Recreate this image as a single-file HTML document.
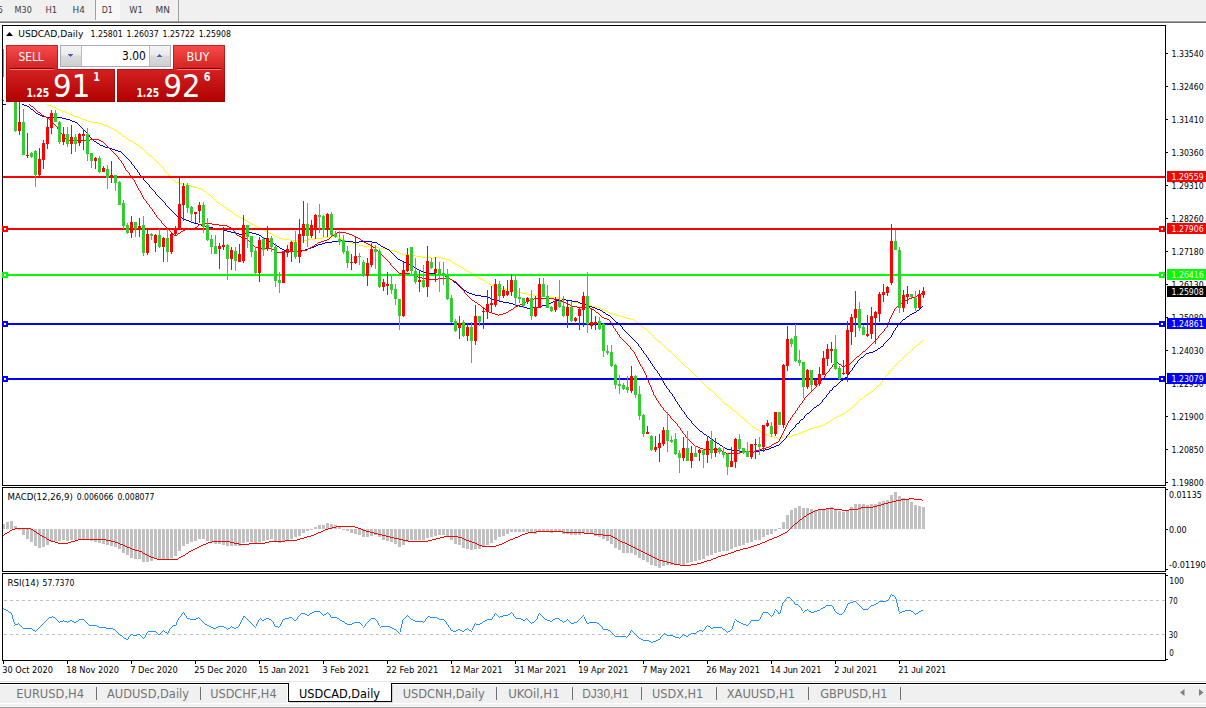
<!DOCTYPE html>
<html><head><meta charset="utf-8"><title>USDCAD,Daily</title>
<style>html,body{margin:0;padding:0;background:#fff}#r{position:relative;width:1206px;height:708px;overflow:hidden;background:#fff}svg{position:absolute;left:0;top:0;display:block}text{font-family:"DejaVu Sans Condensed","Liberation Sans",sans-serif;white-space:pre}</style>
</head><body><div id="r">
<svg width="1206" height="708" viewBox="0 0 1206 708">
<defs>
<linearGradient id="gr" x1="0" y1="0" x2="0" y2="1"><stop offset="0" stop-color="#f84c4c"/><stop offset="0.42" stop-color="#d42222"/><stop offset="1" stop-color="#b00000"/></linearGradient>
<linearGradient id="gb" x1="0" y1="0" x2="0" y2="1"><stop offset="0" stop-color="#f5f5f5"/><stop offset="0.45" stop-color="#eaeaea"/><stop offset="0.5" stop-color="#dbdbdb"/><stop offset="1" stop-color="#d0d0d0"/></linearGradient>
<clipPath id="cm"><rect x="3" y="26" width="1162" height="459"/></clipPath>
<clipPath id="cd"><rect x="3" y="488" width="1162" height="83"/></clipPath>
<clipPath id="cr"><rect x="3" y="574" width="1162" height="86"/></clipPath>
</defs>
<rect x="0" y="0" width="1206" height="708" fill="#fff"/>
<g shape-rendering="crispEdges">
<rect x="0" y="0" width="1206" height="21" fill="#f0f0f0"/>
<rect x="0" y="20" width="1206" height="1" fill="#f4f4f4"/>
<rect x="0" y="21" width="1206" height="1" fill="#a0a0a0"/>
<rect x="0" y="22" width="1206" height="1" fill="#696969"/>
<rect x="96" y="0" width="24" height="20" fill="#f8f8f8"/>
<rect x="95" y="0" width="1" height="20" fill="#a0a0a0"/>
<rect x="178" y="0" width="1" height="21" fill="#a0a0a0"/>
</g>
<g>
<text x="-2.2" y="12.85" font-size="9.0" fill="#3c3c3c" textLength="5.2" lengthAdjust="spacingAndGlyphs">5</text>
<text x="14.6" y="12.85" font-size="9.0" fill="#3c3c3c" textLength="17.2" lengthAdjust="spacingAndGlyphs">M30</text>
<text x="45.6" y="12.85" font-size="9.0" fill="#3c3c3c" textLength="11.6" lengthAdjust="spacingAndGlyphs">H1</text>
<text x="72.6" y="12.85" font-size="9.0" fill="#3c3c3c" textLength="12.3" lengthAdjust="spacingAndGlyphs">H4</text>
<text x="101.7" y="12.85" font-size="9.0" fill="#3c3c3c" textLength="11.1" lengthAdjust="spacingAndGlyphs">D1</text>
<text x="129.3" y="12.85" font-size="9.0" fill="#3c3c3c" textLength="13.6" lengthAdjust="spacingAndGlyphs">W1</text>
<text x="155.6" y="12.85" font-size="9.0" fill="#3c3c3c" textLength="14.4" lengthAdjust="spacingAndGlyphs">MN</text>
</g>
<g shape-rendering="crispEdges" fill="#000">
<rect x="2" y="25" width="1164" height="1" fill="#000"/>
<rect x="2" y="25" width="1" height="636" fill="#000"/>
<rect x="1165" y="25" width="1" height="636" fill="#000"/>
<rect x="2" y="485" width="1164" height="1" fill="#000"/>
<rect x="2" y="487" width="1164" height="1" fill="#000"/>
<rect x="2" y="571" width="1164" height="1" fill="#000"/>
<rect x="2" y="573" width="1164" height="1" fill="#000"/>
<rect x="2" y="660" width="1164" height="1" fill="#000"/>
<rect x="2" y="486" width="1164" height="1" fill="#fff"/>
<rect x="2" y="572" width="1164" height="1" fill="#fff"/>
<rect x="1166" y="53" width="2" height="1" fill="#000"/>
<rect x="1166" y="86" width="2" height="1" fill="#000"/>
<rect x="1166" y="119" width="2" height="1" fill="#000"/>
<rect x="1166" y="152" width="2" height="1" fill="#000"/>
<rect x="1166" y="185" width="2" height="1" fill="#000"/>
<rect x="1166" y="218" width="2" height="1" fill="#000"/>
<rect x="1166" y="251" width="2" height="1" fill="#000"/>
<rect x="1166" y="284" width="2" height="1" fill="#000"/>
<rect x="1166" y="317" width="2" height="1" fill="#000"/>
<rect x="1166" y="350" width="2" height="1" fill="#000"/>
<rect x="1166" y="383" width="2" height="1" fill="#000"/>
<rect x="1166" y="416" width="2" height="1" fill="#000"/>
<rect x="1166" y="449" width="2" height="1" fill="#000"/>
<rect x="1166" y="482" width="2" height="1" fill="#000"/>
<rect x="1166" y="489" width="2" height="1" fill="#000"/>
<rect x="1166" y="529" width="2" height="1" fill="#000"/>
<rect x="1166" y="569" width="2" height="1" fill="#000"/>
<rect x="1166" y="575" width="2" height="1" fill="#000"/>
<rect x="1166" y="659" width="2" height="1" fill="#000"/>
<rect x="3" y="661" width="1" height="3" fill="#000"/>
<rect x="67" y="661" width="1" height="3" fill="#000"/>
<rect x="131" y="661" width="1" height="3" fill="#000"/>
<rect x="195" y="661" width="1" height="3" fill="#000"/>
<rect x="259" y="661" width="1" height="3" fill="#000"/>
<rect x="323" y="661" width="1" height="3" fill="#000"/>
<rect x="387" y="661" width="1" height="3" fill="#000"/>
<rect x="451" y="661" width="1" height="3" fill="#000"/>
<rect x="515" y="661" width="1" height="3" fill="#000"/>
<rect x="579" y="661" width="1" height="3" fill="#000"/>
<rect x="643" y="661" width="1" height="3" fill="#000"/>
<rect x="707" y="661" width="1" height="3" fill="#000"/>
<rect x="771" y="661" width="1" height="3" fill="#000"/>
<rect x="835" y="661" width="1" height="3" fill="#000"/>
<rect x="899" y="661" width="1" height="3" fill="#000"/>
</g>
<g clip-path="url(#cm)">
<g shape-rendering="crispEdges">
<path d="M163.5 168v2M168.5 174v2M880.5 383v2M882.5 380v2M885.5 376v2M888.5 372v2M47 104.5h1M48 105.5h3M51 106.5h2M53 107.5h3M56 108.5h2M58 109.5h2M60 110.5h2M62 111.5h3M65 112.5h2M67 113.5h2M69 114.5h3M72 115.5h2M74 116.5h3M77 117.5h3M80 118.5h2M82 119.5h3M85 120.5h3M88 121.5h4M92 122.5h6M98 123.5h3M101 124.5h3M104 125.5h3M107 126.5h2M109 127.5h2M111 128.5h3M114 129.5h1M115 130.5h2M117 131.5h1M118 132.5h1M119 133.5h2M121 134.5h1M122 135.5h1M123 136.5h2M125 137.5h1M126 138.5h2M128 139.5h1M129 140.5h2M131 141.5h2M133 142.5h1M134 143.5h2M136 144.5h2M138 145.5h1M139 146.5h1M140 147.5h2M142 148.5h1M143 149.5h1M144 150.5h1M145 151.5h1M146 152.5h1M147 153.5h1M148 154.5h1M149 155.5h2M151 156.5h1M152 157.5h1M153 158.5h1M154 159.5h1M155 160.5h1M156 161.5h1M157 162.5h1M158 163.5h1M159 164.5h1M160 165.5h1M161 166.5h1M162 167.5h1M164 170.5h1M165 171.5h1M166 172.5h1M167 173.5h1M169 176.5h1M170 177.5h1M171 178.5h1M172 179.5h2M174 180.5h1M175 181.5h1M176 182.5h4M180 183.5h3M183 184.5h4M187 185.5h4M191 186.5h4M195 187.5h3M198 188.5h3M201 189.5h2M203 190.5h1M204 191.5h2M206 192.5h1M207 193.5h1M208 194.5h2M210 195.5h1M211 196.5h1M212 197.5h1M213 198.5h1M214 199.5h1M215 200.5h1M216 201.5h1M217 202.5h2M219 203.5h1M220 204.5h2M222 205.5h1M223 206.5h1M224 207.5h2M226 208.5h1M227 209.5h2M229 210.5h1M230 211.5h2M232 212.5h1M233 213.5h1M234 214.5h2M236 215.5h1M237 216.5h2M239 217.5h2M241 218.5h2M243 219.5h2M245 220.5h2M247 221.5h1M248 222.5h2M250 223.5h2M252 224.5h2M254 225.5h2M256 226.5h2M258 227.5h1M259 228.5h2M261 229.5h2M263 230.5h2M265 231.5h2M267 232.5h2M269 233.5h3M272 234.5h1M273 235.5h2M275 236.5h2M330 236.5h7M277 237.5h2M322 237.5h8M337 237.5h2M279 238.5h4M315 238.5h7M339 238.5h3M283 239.5h7M308 239.5h7M342 239.5h2M290 240.5h18M344 240.5h2M346 241.5h3M349 242.5h3M352 243.5h3M355 244.5h4M359 245.5h4M363 246.5h7M370 247.5h9M379 248.5h7M386 249.5h4M390 250.5h4M394 251.5h3M397 252.5h2M399 253.5h3M402 254.5h8M410 255.5h6M416 256.5h6M422 257.5h9M433 257.5h9M431 258.5h2M442 258.5h4M446 259.5h3M449 260.5h2M451 261.5h1M452 262.5h2M454 263.5h1M455 264.5h2M457 265.5h2M459 266.5h2M461 267.5h2M463 268.5h1M464 269.5h2M466 270.5h1M467 271.5h2M469 272.5h2M471 273.5h1M472 274.5h1M473 275.5h2M475 276.5h2M477 277.5h2M479 278.5h2M481 279.5h2M483 280.5h2M485 281.5h1M486 282.5h2M488 283.5h2M490 284.5h2M492 285.5h3M495 286.5h2M497 287.5h3M500 288.5h5M505 289.5h5M510 290.5h4M514 291.5h4M518 292.5h4M522 293.5h5M527 294.5h6M533 295.5h6M539 296.5h7M546 297.5h13M559 298.5h4M563 299.5h5M568 300.5h3M571 301.5h3M574 302.5h4M578 303.5h4M582 304.5h5M587 305.5h4M591 306.5h4M595 307.5h4M599 308.5h2M601 309.5h2M603 310.5h3M606 311.5h2M608 312.5h2M610 313.5h4M614 314.5h2M616 315.5h4M620 316.5h3M623 317.5h4M627 318.5h4M631 319.5h3M634 320.5h1M635 321.5h1M636 322.5h2M638 323.5h1M639 324.5h1M640 325.5h2M642 326.5h1M643 327.5h1M644 328.5h2M646 329.5h1M647 330.5h1M648 331.5h1M649 332.5h1M650 333.5h1M651 334.5h1M652 335.5h1M653 336.5h1M654 337.5h1M655 338.5h1M656 339.5h1M657 340.5h1M922 340.5h1M658 341.5h2M921 341.5h1M660 342.5h1M920 342.5h1M661 343.5h1M919 343.5h1M662 344.5h1M918 344.5h1M663 345.5h1M916 345.5h2M664 346.5h1M915 346.5h1M665 347.5h1M914 347.5h1M666 348.5h1M913 348.5h1M667 349.5h1M912 349.5h1M668 350.5h1M911 350.5h1M669 351.5h2M910 351.5h1M671 352.5h1M908 352.5h2M672 353.5h1M907 353.5h1M673 354.5h1M906 354.5h1M674 355.5h1M905 355.5h1M675 356.5h1M904 356.5h1M676 357.5h1M903 357.5h1M677 358.5h1M902 358.5h1M678 359.5h1M901 359.5h1M679 360.5h1M900 360.5h1M680 361.5h1M899 361.5h1M681 362.5h1M898 362.5h1M682 363.5h1M897 363.5h1M683 364.5h1M896 364.5h1M684 365.5h1M895 365.5h1M685 366.5h1M894 366.5h1M686 367.5h2M893 367.5h1M688 368.5h1M892 368.5h1M689 369.5h1M891 369.5h1M690 370.5h1M890 370.5h1M691 371.5h1M889 371.5h1M692 372.5h1M693 373.5h1M694 374.5h1M887 374.5h1M695 375.5h1M886 375.5h1M696 376.5h1M697 377.5h1M698 378.5h1M884 378.5h1M699 379.5h1M883 379.5h1M700 380.5h1M701 381.5h1M702 382.5h1M881 382.5h1M703 383.5h1M704 384.5h1M705 385.5h1M878 385.5h2M706 386.5h1M877 386.5h1M707 387.5h1M876 387.5h1M708 388.5h1M875 388.5h1M709 389.5h2M874 389.5h1M711 390.5h1M873 390.5h1M712 391.5h1M871 391.5h2M713 392.5h1M870 392.5h1M714 393.5h1M868 393.5h2M715 394.5h1M867 394.5h1M716 395.5h1M866 395.5h1M717 396.5h1M864 396.5h2M718 397.5h1M863 397.5h1M719 398.5h1M862 398.5h1M720 399.5h1M860 399.5h2M721 400.5h1M859 400.5h1M722 401.5h1M858 401.5h1M723 402.5h1M857 402.5h1M724 403.5h1M856 403.5h1M725 404.5h2M855 404.5h1M727 405.5h1M854 405.5h1M728 406.5h2M853 406.5h1M730 407.5h1M852 407.5h1M731 408.5h1M850 408.5h2M732 409.5h1M849 409.5h1M733 410.5h1M848 410.5h1M734 411.5h2M846 411.5h2M736 412.5h1M845 412.5h1M737 413.5h1M843 413.5h2M738 414.5h1M841 414.5h2M739 415.5h1M839 415.5h2M740 416.5h1M837 416.5h2M741 417.5h2M835 417.5h2M743 418.5h1M833 418.5h2M744 419.5h1M832 419.5h1M745 420.5h1M830 420.5h2M746 421.5h1M829 421.5h1M747 422.5h1M827 422.5h2M748 423.5h2M825 423.5h2M750 424.5h1M823 424.5h2M751 425.5h1M821 425.5h2M752 426.5h1M818 426.5h3M753 427.5h2M814 427.5h4M755 428.5h1M811 428.5h3M756 429.5h2M808 429.5h3M758 430.5h2M806 430.5h2M760 431.5h1M803 431.5h3M761 432.5h2M801 432.5h2M763 433.5h2M798 433.5h3M765 434.5h3M795 434.5h3M768 435.5h2M792 435.5h3M770 436.5h4M784 436.5h8M774 437.5h3M780 437.5h4M777 438.5h3" fill="none" stroke="#ffff00" stroke-width="1"/>
<path d="M89.5 135v2M131.5 162v2M134.5 166v2M137.5 170v2M139.5 173v2M143.5 178v2M149.5 185v2M155.5 192v2M165.5 203v2M622.5 327v2M638.5 344v2M641.5 348v2M643.5 351v2M646.5 355v2M648.5 358v2M650.5 361v2M652.5 364v2M654.5 367v2M657.5 371v2M659.5 374v2M662.5 378v3M663.5 381v2M664.5 383v2M666.5 386v2M669.5 390v2M672.5 394v2M674.5 397v2M675.5 399v2M677.5 402v2M679.5 405v2M681.5 408v2M684.5 412v2M686.5 415v2M691.5 421v2M786.5 436v2M789.5 432v2M795.5 425v2M799.5 421v2M804.5 416v2M822.5 400v2M826.5 395v2M829.5 391v2M832.5 388v2M847.5 375v2M849.5 372v2M852.5 368v2M854.5 365v2M857.5 361v2M883.5 344v2M891.5 335v2M892.5 333v2M893.5 331v2M895.5 328v2M897.5 325v2M22 104.5h2M24 105.5h3M27 106.5h2M29 107.5h1M30 108.5h1M31 109.5h2M33 110.5h1M34 111.5h1M35 112.5h1M36 113.5h2M38 114.5h2M40 115.5h2M42 116.5h4M46 117.5h16M62 118.5h4M66 119.5h4M70 120.5h2M72 121.5h3M75 122.5h2M77 123.5h1M78 124.5h1M79 125.5h1M80 126.5h1M81 127.5h1M82 128.5h1M83 129.5h1M84 130.5h1M85 131.5h1M86 132.5h1M87 133.5h1M88 134.5h1M90 137.5h1M91 138.5h1M92 139.5h1M93 140.5h1M94 141.5h2M96 142.5h1M97 143.5h2M99 144.5h1M100 145.5h3M103 146.5h2M105 147.5h4M109 148.5h3M112 149.5h3M115 150.5h3M118 151.5h3M121 152.5h1M122 153.5h1M123 154.5h1M124 155.5h1M125 156.5h1M126 157.5h1M127 158.5h1M128 159.5h1M129 160.5h1M130 161.5h1M132 164.5h1M133 165.5h1M135 168.5h1M136 169.5h1M138 172.5h1M140 175.5h1M141 176.5h1M142 177.5h1M144 180.5h1M145 181.5h1M146 182.5h1M147 183.5h1M148 184.5h1M150 187.5h1M151 188.5h1M152 189.5h1M153 190.5h1M154 191.5h1M156 194.5h1M157 195.5h1M158 196.5h1M159 197.5h1M160 198.5h1M161 199.5h1M162 200.5h1M163 201.5h1M164 202.5h1M166 205.5h1M167 206.5h1M168 207.5h1M169 208.5h1M170 209.5h1M171 210.5h1M172 211.5h1M173 212.5h1M174 213.5h1M175 214.5h1M176 215.5h1M177 216.5h2M179 217.5h3M182 218.5h2M184 219.5h2M186 220.5h3M189 221.5h2M191 222.5h3M194 223.5h4M198 224.5h3M201 225.5h3M204 226.5h4M208 227.5h5M213 228.5h5M218 229.5h5M223 230.5h4M227 231.5h4M231 232.5h4M247 232.5h5M235 233.5h4M242 233.5h5M252 233.5h4M239 234.5h3M256 234.5h3M259 235.5h2M261 236.5h1M262 237.5h2M264 238.5h2M266 239.5h1M267 240.5h2M338 240.5h7M269 241.5h2M332 241.5h6M345 241.5h8M359 241.5h13M271 242.5h2M325 242.5h7M353 242.5h6M372 242.5h5M273 243.5h1M322 243.5h3M377 243.5h1M274 244.5h2M318 244.5h4M378 244.5h2M276 245.5h1M316 245.5h2M380 245.5h1M277 246.5h2M314 246.5h2M381 246.5h2M279 247.5h1M311 247.5h3M383 247.5h2M280 248.5h2M308 248.5h3M385 248.5h2M282 249.5h2M305 249.5h3M387 249.5h2M284 250.5h4M301 250.5h4M389 250.5h1M288 251.5h13M390 251.5h1M391 252.5h1M392 253.5h1M393 254.5h1M394 255.5h1M395 256.5h1M396 257.5h1M397 258.5h1M398 259.5h2M400 260.5h2M402 261.5h2M404 262.5h2M406 263.5h1M407 264.5h3M410 265.5h2M412 266.5h2M414 267.5h2M416 268.5h1M417 269.5h2M419 270.5h2M421 271.5h2M423 272.5h3M426 273.5h10M436 274.5h6M442 275.5h3M445 276.5h2M447 277.5h2M449 278.5h1M450 279.5h2M452 280.5h1M453 281.5h1M454 282.5h2M456 283.5h1M457 284.5h1M458 285.5h1M459 286.5h1M460 287.5h1M461 288.5h2M463 289.5h1M464 290.5h2M466 291.5h1M467 292.5h2M469 293.5h3M472 294.5h3M475 295.5h6M481 296.5h7M488 297.5h2M490 298.5h2M492 299.5h3M562 299.5h4M495 300.5h4M556 300.5h6M566 300.5h6M499 301.5h4M553 301.5h3M572 301.5h6M503 302.5h6M551 302.5h2M578 302.5h2M509 303.5h4M548 303.5h3M580 303.5h3M513 304.5h3M547 304.5h1M583 304.5h3M516 305.5h3M542 305.5h5M586 305.5h3M519 306.5h4M538 306.5h4M589 306.5h3M922 306.5h1M523 307.5h4M532 307.5h6M592 307.5h3M921 307.5h1M527 308.5h5M595 308.5h2M920 308.5h1M597 309.5h3M919 309.5h1M600 310.5h2M917 310.5h2M602 311.5h1M916 311.5h1M603 312.5h2M914 312.5h2M605 313.5h1M912 313.5h2M606 314.5h2M910 314.5h2M608 315.5h2M909 315.5h1M610 316.5h1M907 316.5h2M611 317.5h1M906 317.5h1M612 318.5h1M905 318.5h1M613 319.5h1M903 319.5h2M614 320.5h1M902 320.5h1M615 321.5h1M901 321.5h1M616 322.5h2M900 322.5h1M618 323.5h1M899 323.5h1M619 324.5h1M898 324.5h1M620 325.5h1M621 326.5h1M896 327.5h1M623 329.5h1M624 330.5h1M894 330.5h1M625 331.5h1M626 332.5h1M627 333.5h1M628 334.5h1M629 335.5h1M630 336.5h1M631 337.5h1M890 337.5h1M632 338.5h1M889 338.5h1M633 339.5h1M888 339.5h1M634 340.5h1M887 340.5h1M635 341.5h1M886 341.5h1M636 342.5h1M885 342.5h1M637 343.5h1M884 343.5h1M639 346.5h1M881 346.5h2M640 347.5h1M880 347.5h1M878 348.5h2M877 349.5h1M642 350.5h1M875 350.5h2M873 351.5h2M869 352.5h4M644 353.5h1M866 353.5h3M645 354.5h1M865 354.5h1M864 355.5h1M863 356.5h1M647 357.5h1M861 357.5h2M860 358.5h1M859 359.5h1M649 360.5h1M858 360.5h1M651 363.5h1M856 363.5h1M855 364.5h1M653 366.5h1M853 367.5h1M655 369.5h1M656 370.5h1M851 370.5h1M850 371.5h1M658 373.5h1M848 374.5h1M660 376.5h1M661 377.5h1M845 377.5h2M844 378.5h1M843 379.5h1M841 380.5h2M840 381.5h1M839 382.5h1M838 383.5h1M837 384.5h1M665 385.5h1M836 385.5h1M834 386.5h2M833 387.5h1M667 388.5h1M668 389.5h1M830 390.5h2M670 392.5h1M671 393.5h1M828 393.5h1M827 394.5h1M673 396.5h1M825 397.5h1M824 398.5h1M823 399.5h1M676 401.5h1M821 402.5h1M820 403.5h1M678 404.5h1M819 404.5h1M817 405.5h2M816 406.5h1M680 407.5h1M814 407.5h2M813 408.5h1M812 409.5h1M682 410.5h1M811 410.5h1M683 411.5h1M810 411.5h1M809 412.5h1M807 413.5h2M685 414.5h1M806 414.5h1M805 415.5h1M687 417.5h1M688 418.5h1M803 418.5h1M689 419.5h1M801 419.5h2M690 420.5h1M800 420.5h1M692 423.5h1M797 423.5h2M693 424.5h1M796 424.5h1M694 425.5h1M695 426.5h1M696 427.5h1M794 427.5h1M697 428.5h1M793 428.5h1M698 429.5h1M792 429.5h1M699 430.5h1M791 430.5h1M700 431.5h2M790 431.5h1M702 432.5h1M703 433.5h1M704 434.5h2M788 434.5h1M706 435.5h1M787 435.5h1M707 436.5h2M709 437.5h1M710 438.5h2M785 438.5h1M712 439.5h1M784 439.5h1M713 440.5h1M783 440.5h1M714 441.5h2M782 441.5h1M716 442.5h1M781 442.5h1M717 443.5h2M780 443.5h1M719 444.5h1M779 444.5h1M720 445.5h2M776 445.5h3M722 446.5h1M774 446.5h2M723 447.5h2M771 447.5h3M725 448.5h2M769 448.5h2M727 449.5h5M765 449.5h4M732 450.5h7M760 450.5h5M739 451.5h14M754 451.5h6M753 452.5h1" fill="none" stroke="#0000cc" stroke-width="1"/>
<path d="M57.5 127v2M59.5 130v2M62.5 134v2M118.5 157v2M121.5 161v2M123.5 164v2M124.5 166v2M125.5 168v2M129.5 173v2M131.5 176v2M134.5 180v2M135.5 182v2M136.5 184v2M137.5 186v2M138.5 188v2M140.5 191v2M141.5 193v2M142.5 195v2M143.5 197v2M146.5 201v2M149.5 205v2M152.5 209v2M154.5 212v2M156.5 215v2M161.5 221v2M235.5 232v2M390.5 263v2M461.5 287v2M464.5 291v2M610.5 321v2M612.5 324v2M613.5 326v2M615.5 329v2M617.5 332v2M619.5 335v2M630.5 347v2M634.5 352v2M635.5 354v2M636.5 356v2M637.5 358v2M638.5 360v2M639.5 362v2M640.5 364v2M642.5 367v2M643.5 369v2M644.5 371v2M645.5 373v2M646.5 375v3M647.5 378v2M648.5 380v3M649.5 383v2M650.5 385v2M651.5 387v3M652.5 390v2M653.5 392v3M655.5 396v2M656.5 398v2M658.5 401v2M660.5 404v2M663.5 408v2M670.5 416v2M677.5 424v2M680.5 428v2M682.5 431v2M685.5 435v2M779.5 439v2M780.5 437v2M781.5 435v2M782.5 433v2M783.5 431v2M784.5 429v2M785.5 427v2M786.5 425v2M787.5 423v2M788.5 421v2M790.5 418v2M792.5 415v2M795.5 411v2M797.5 408v2M799.5 405v2M802.5 401v2M804.5 398v2M816.5 385v2M824.5 376v2M825.5 374v2M829.5 369v2M832.5 365v2M878.5 336v2M884.5 329v2M887.5 324v3M888.5 322v2M889.5 319v3M890.5 317v2M891.5 315v2M892.5 313v2M893.5 311v2M894.5 309v2M29 104.5h1M30 105.5h1M31 106.5h2M33 107.5h1M34 108.5h1M35 109.5h1M36 110.5h1M37 111.5h1M38 112.5h2M40 113.5h1M41 114.5h1M42 115.5h2M44 116.5h2M46 117.5h2M48 118.5h1M49 119.5h1M50 120.5h1M51 121.5h1M52 122.5h1M53 123.5h1M54 124.5h1M55 125.5h1M56 126.5h1M58 129.5h1M60 132.5h1M61 133.5h1M63 136.5h1M64 137.5h1M65 138.5h1M66 139.5h2M90 139.5h9M68 140.5h22M99 140.5h2M101 141.5h2M103 142.5h1M104 143.5h1M105 144.5h1M106 145.5h1M107 146.5h1M108 147.5h1M109 148.5h1M110 149.5h1M111 150.5h1M112 151.5h1M113 152.5h1M114 153.5h1M115 154.5h1M116 155.5h1M117 156.5h1M119 159.5h1M120 160.5h1M122 163.5h1M126 170.5h1M127 171.5h1M128 172.5h1M130 175.5h1M132 178.5h1M133 179.5h1M139 190.5h1M144 199.5h1M145 200.5h1M147 203.5h1M148 204.5h1M150 207.5h1M151 208.5h1M153 211.5h1M155 214.5h1M157 217.5h1M158 218.5h1M159 219.5h1M160 220.5h1M162 223.5h1M203 223.5h9M163 224.5h1M199 224.5h4M212 224.5h7M164 225.5h1M198 225.5h1M219 225.5h8M165 226.5h1M197 226.5h1M227 226.5h2M166 227.5h1M195 227.5h2M229 227.5h2M167 228.5h1M190 228.5h5M231 228.5h1M168 229.5h1M185 229.5h5M232 229.5h1M169 230.5h1M183 230.5h2M233 230.5h1M170 231.5h1M181 231.5h2M234 231.5h1M171 232.5h1M180 232.5h1M337 232.5h9M172 233.5h1M178 233.5h2M335 233.5h2M346 233.5h3M173 234.5h1M177 234.5h1M236 234.5h1M334 234.5h1M349 234.5h3M174 235.5h3M237 235.5h2M332 235.5h2M352 235.5h2M239 236.5h2M331 236.5h1M354 236.5h2M241 237.5h2M330 237.5h1M356 237.5h2M243 238.5h4M329 238.5h1M358 238.5h2M247 239.5h1M327 239.5h2M360 239.5h1M248 240.5h1M324 240.5h3M361 240.5h2M249 241.5h1M321 241.5h3M363 241.5h1M250 242.5h1M318 242.5h3M364 242.5h2M251 243.5h1M317 243.5h1M366 243.5h2M252 244.5h1M315 244.5h2M368 244.5h2M253 245.5h1M314 245.5h1M370 245.5h1M254 246.5h1M312 246.5h2M371 246.5h2M255 247.5h5M310 247.5h2M373 247.5h2M260 248.5h12M308 248.5h2M375 248.5h1M272 249.5h2M307 249.5h1M376 249.5h1M274 250.5h1M302 250.5h5M377 250.5h1M275 251.5h2M282 251.5h20M378 251.5h1M277 252.5h5M379 252.5h1M380 253.5h1M381 254.5h1M382 255.5h1M383 256.5h1M384 257.5h1M385 258.5h1M386 259.5h1M387 260.5h1M388 261.5h1M389 262.5h1M391 265.5h1M392 266.5h1M393 267.5h1M394 268.5h1M395 269.5h1M396 270.5h1M397 271.5h1M398 272.5h1M399 273.5h11M410 274.5h3M413 275.5h3M416 276.5h2M418 277.5h4M422 278.5h4M438 278.5h12M426 279.5h12M450 279.5h2M452 280.5h2M454 281.5h2M456 282.5h1M457 283.5h1M458 284.5h1M459 285.5h1M460 286.5h1M462 289.5h1M463 290.5h1M922 292.5h1M465 293.5h1M921 293.5h1M466 294.5h1M919 294.5h2M467 295.5h1M917 295.5h2M468 296.5h1M916 296.5h1M469 297.5h1M912 297.5h4M470 298.5h1M534 298.5h20M909 298.5h3M471 299.5h1M530 299.5h4M554 299.5h5M907 299.5h2M472 300.5h2M528 300.5h2M559 300.5h2M905 300.5h2M474 301.5h1M526 301.5h2M561 301.5h3M904 301.5h1M475 302.5h2M524 302.5h2M564 302.5h2M902 302.5h2M477 303.5h1M522 303.5h2M566 303.5h2M900 303.5h2M478 304.5h2M520 304.5h2M568 304.5h2M899 304.5h1M480 305.5h1M518 305.5h2M570 305.5h2M898 305.5h1M481 306.5h1M516 306.5h2M572 306.5h5M897 306.5h1M482 307.5h2M514 307.5h2M577 307.5h13M896 307.5h1M484 308.5h1M513 308.5h1M590 308.5h2M895 308.5h1M485 309.5h2M511 309.5h2M592 309.5h2M487 310.5h1M509 310.5h2M594 310.5h1M488 311.5h1M508 311.5h1M595 311.5h1M489 312.5h3M506 312.5h2M596 312.5h2M492 313.5h3M503 313.5h3M598 313.5h1M495 314.5h3M499 314.5h4M599 314.5h1M498 315.5h1M600 315.5h1M601 316.5h1M602 317.5h2M604 318.5h3M607 319.5h2M609 320.5h1M611 323.5h1M886 327.5h1M614 328.5h1M885 328.5h1M616 331.5h1M883 331.5h1M882 332.5h1M881 333.5h1M618 334.5h1M880 334.5h1M879 335.5h1M620 337.5h1M621 338.5h1M877 338.5h1M622 339.5h1M876 339.5h1M623 340.5h1M875 340.5h1M624 341.5h1M874 341.5h1M625 342.5h1M873 342.5h1M626 343.5h1M872 343.5h1M627 344.5h1M871 344.5h1M628 345.5h1M870 345.5h1M629 346.5h1M869 346.5h1M868 347.5h1M867 348.5h1M631 349.5h1M866 349.5h1M632 350.5h1M865 350.5h1M633 351.5h1M863 351.5h2M862 352.5h1M861 353.5h1M860 354.5h1M859 355.5h1M857 356.5h2M856 357.5h1M855 358.5h1M854 359.5h1M853 360.5h1M852 361.5h1M835 362.5h3M851 362.5h1M834 363.5h1M838 363.5h1M850 363.5h1M833 364.5h1M839 364.5h2M849 364.5h1M841 365.5h1M845 365.5h4M641 366.5h1M842 366.5h3M831 367.5h1M830 368.5h1M828 371.5h1M827 372.5h1M826 373.5h1M823 378.5h1M822 379.5h1M821 380.5h1M820 381.5h1M819 382.5h1M818 383.5h1M817 384.5h1M815 387.5h1M814 388.5h1M813 389.5h1M812 390.5h1M811 391.5h1M810 392.5h1M809 393.5h1M808 394.5h1M654 395.5h1M807 395.5h1M806 396.5h1M805 397.5h1M657 400.5h1M803 400.5h1M659 403.5h1M801 403.5h1M800 404.5h1M661 406.5h1M662 407.5h1M798 407.5h1M664 410.5h1M796 410.5h1M665 411.5h1M666 412.5h1M667 413.5h1M794 413.5h1M668 414.5h1M793 414.5h1M669 415.5h1M791 417.5h1M671 418.5h1M672 419.5h1M673 420.5h1M789 420.5h1M674 421.5h1M675 422.5h1M676 423.5h1M678 426.5h1M679 427.5h1M681 430.5h1M683 433.5h1M684 434.5h1M686 437.5h1M687 438.5h1M688 439.5h1M689 440.5h1M690 441.5h1M778 441.5h1M691 442.5h1M776 442.5h2M692 443.5h1M774 443.5h2M693 444.5h1M772 444.5h2M694 445.5h1M771 445.5h1M695 446.5h3M769 446.5h2M698 447.5h2M766 447.5h3M700 448.5h3M762 448.5h4M703 449.5h17M760 449.5h2M720 450.5h2M756 450.5h4M722 451.5h2M744 451.5h9M754 451.5h2M724 452.5h2M739 452.5h5M753 452.5h1M726 453.5h13" fill="none" stroke="#ff0000" stroke-width="1"/>
<rect x="3" y="104" width="3" height="1" fill="#0000cc"/>
<rect x="3" y="100" width="1" height="1" fill="#ff0000"/>
<rect x="3" y="88" width="1" height="1" fill="#ffff00"/>
<rect x="3" y="176" width="1162" height="2" fill="#ff0000"/>
<rect x="3" y="228" width="1162" height="2" fill="#ff0000"/>
<rect x="3" y="274" width="1162" height="2" fill="#00ff00"/>
<rect x="3" y="323" width="1162" height="2" fill="#0000ff"/>
<rect x="3" y="378" width="1162" height="2" fill="#0000ff"/>
</g>
<g shape-rendering="crispEdges">
<rect x="3" y="49" width="1" height="28" fill="#32cd32"/>
<rect x="15" y="95" width="1" height="37" fill="#32cd32"/>
<rect x="14" y="98" width="3" height="33" fill="#32cd32"/>
<rect x="19" y="95" width="1" height="40" fill="#ff0000"/>
<rect x="18" y="122" width="3" height="9" fill="#ff0000"/>
<rect x="23" y="109" width="1" height="46" fill="#32cd32"/>
<rect x="22" y="122" width="3" height="33" fill="#32cd32"/>
<rect x="27" y="133" width="1" height="25" fill="#ff0000"/>
<rect x="26" y="155" width="3" height="1" fill="#ff0000"/>
<rect x="31" y="152" width="1" height="6" fill="#32cd32"/>
<rect x="30" y="153" width="3" height="4" fill="#32cd32"/>
<rect x="35" y="150" width="1" height="37" fill="#32cd32"/>
<rect x="34" y="151" width="3" height="24" fill="#32cd32"/>
<rect x="39" y="148" width="1" height="28" fill="#ff0000"/>
<rect x="38" y="159" width="3" height="16" fill="#ff0000"/>
<rect x="43" y="140" width="1" height="29" fill="#ff0000"/>
<rect x="42" y="143" width="3" height="17" fill="#ff0000"/>
<rect x="47" y="117" width="1" height="32" fill="#ff0000"/>
<rect x="46" y="127" width="3" height="17" fill="#ff0000"/>
<rect x="51" y="110" width="1" height="24" fill="#ff0000"/>
<rect x="50" y="113" width="3" height="15" fill="#ff0000"/>
<rect x="55" y="110" width="1" height="12" fill="#32cd32"/>
<rect x="54" y="113" width="3" height="9" fill="#32cd32"/>
<rect x="59" y="121" width="1" height="23" fill="#32cd32"/>
<rect x="58" y="122" width="3" height="20" fill="#32cd32"/>
<rect x="63" y="127" width="1" height="18" fill="#ff0000"/>
<rect x="62" y="134" width="3" height="8" fill="#ff0000"/>
<rect x="67" y="127" width="1" height="20" fill="#32cd32"/>
<rect x="66" y="134" width="3" height="10" fill="#32cd32"/>
<rect x="71" y="125" width="1" height="29" fill="#ff0000"/>
<rect x="70" y="137" width="3" height="7" fill="#ff0000"/>
<rect x="75" y="134" width="1" height="18" fill="#32cd32"/>
<rect x="74" y="137" width="3" height="7" fill="#32cd32"/>
<rect x="79" y="133" width="1" height="13" fill="#ff0000"/>
<rect x="78" y="134" width="3" height="9" fill="#ff0000"/>
<rect x="83" y="129" width="1" height="21" fill="#ff0000"/>
<rect x="82" y="134" width="3" height="2" fill="#ff0000"/>
<rect x="87" y="128" width="1" height="33" fill="#32cd32"/>
<rect x="86" y="134" width="3" height="20" fill="#32cd32"/>
<rect x="91" y="153" width="1" height="15" fill="#32cd32"/>
<rect x="90" y="153" width="3" height="8" fill="#32cd32"/>
<rect x="95" y="157" width="1" height="12" fill="#ff0000"/>
<rect x="94" y="158" width="3" height="3" fill="#ff0000"/>
<rect x="99" y="156" width="1" height="17" fill="#32cd32"/>
<rect x="98" y="158" width="3" height="14" fill="#32cd32"/>
<rect x="103" y="166" width="1" height="6" fill="#ff0000"/>
<rect x="102" y="168" width="3" height="4" fill="#ff0000"/>
<rect x="107" y="165" width="1" height="24" fill="#32cd32"/>
<rect x="106" y="169" width="3" height="9" fill="#32cd32"/>
<rect x="111" y="161" width="1" height="22" fill="#ff0000"/>
<rect x="110" y="175" width="3" height="3" fill="#ff0000"/>
<rect x="115" y="175" width="1" height="16" fill="#32cd32"/>
<rect x="114" y="175" width="3" height="8" fill="#32cd32"/>
<rect x="119" y="181" width="1" height="24" fill="#32cd32"/>
<rect x="118" y="182" width="3" height="23" fill="#32cd32"/>
<rect x="123" y="200" width="1" height="29" fill="#32cd32"/>
<rect x="122" y="203" width="3" height="23" fill="#32cd32"/>
<rect x="127" y="223" width="1" height="11" fill="#32cd32"/>
<rect x="126" y="225" width="3" height="8" fill="#32cd32"/>
<rect x="131" y="216" width="1" height="22" fill="#ff0000"/>
<rect x="130" y="222" width="3" height="11" fill="#ff0000"/>
<rect x="135" y="222" width="1" height="15" fill="#32cd32"/>
<rect x="134" y="222" width="3" height="7" fill="#32cd32"/>
<rect x="139" y="218" width="1" height="19" fill="#ff0000"/>
<rect x="138" y="226" width="3" height="3" fill="#ff0000"/>
<rect x="143" y="216" width="1" height="40" fill="#32cd32"/>
<rect x="142" y="225" width="3" height="28" fill="#32cd32"/>
<rect x="147" y="229" width="1" height="26" fill="#ff0000"/>
<rect x="146" y="234" width="3" height="19" fill="#ff0000"/>
<rect x="151" y="233" width="1" height="7" fill="#32cd32"/>
<rect x="150" y="234" width="3" height="2" fill="#32cd32"/>
<rect x="155" y="234" width="1" height="18" fill="#ff0000"/>
<rect x="154" y="235" width="3" height="8" fill="#ff0000"/>
<rect x="159" y="229" width="1" height="19" fill="#32cd32"/>
<rect x="158" y="235" width="3" height="12" fill="#32cd32"/>
<rect x="163" y="237" width="1" height="25" fill="#ff0000"/>
<rect x="162" y="238" width="3" height="9" fill="#ff0000"/>
<rect x="167" y="229" width="1" height="33" fill="#32cd32"/>
<rect x="166" y="238" width="3" height="14" fill="#32cd32"/>
<rect x="171" y="233" width="1" height="21" fill="#ff0000"/>
<rect x="170" y="234" width="3" height="18" fill="#ff0000"/>
<rect x="175" y="226" width="1" height="10" fill="#ff0000"/>
<rect x="174" y="229" width="3" height="5" fill="#ff0000"/>
<rect x="179" y="178" width="1" height="52" fill="#ff0000"/>
<rect x="178" y="204" width="3" height="25" fill="#ff0000"/>
<rect x="183" y="183" width="1" height="38" fill="#ff0000"/>
<rect x="182" y="186" width="3" height="19" fill="#ff0000"/>
<rect x="187" y="183" width="1" height="30" fill="#32cd32"/>
<rect x="186" y="185" width="3" height="23" fill="#32cd32"/>
<rect x="191" y="206" width="1" height="15" fill="#32cd32"/>
<rect x="190" y="207" width="3" height="7" fill="#32cd32"/>
<rect x="195" y="212" width="1" height="11" fill="#ff0000"/>
<rect x="194" y="212" width="3" height="2" fill="#ff0000"/>
<rect x="199" y="202" width="1" height="21" fill="#ff0000"/>
<rect x="198" y="205" width="3" height="6" fill="#ff0000"/>
<rect x="203" y="202" width="1" height="31" fill="#32cd32"/>
<rect x="202" y="205" width="3" height="22" fill="#32cd32"/>
<rect x="207" y="218" width="1" height="23" fill="#32cd32"/>
<rect x="206" y="225" width="3" height="15" fill="#32cd32"/>
<rect x="211" y="235" width="1" height="19" fill="#32cd32"/>
<rect x="210" y="239" width="3" height="8" fill="#32cd32"/>
<rect x="215" y="235" width="1" height="19" fill="#32cd32"/>
<rect x="214" y="246" width="3" height="8" fill="#32cd32"/>
<rect x="219" y="243" width="1" height="26" fill="#ff0000"/>
<rect x="218" y="246" width="3" height="3" fill="#ff0000"/>
<rect x="223" y="227" width="1" height="23" fill="#ff0000"/>
<rect x="222" y="245" width="3" height="2" fill="#ff0000"/>
<rect x="227" y="244" width="1" height="36" fill="#32cd32"/>
<rect x="226" y="245" width="3" height="14" fill="#32cd32"/>
<rect x="231" y="247" width="1" height="23" fill="#ff0000"/>
<rect x="230" y="250" width="3" height="9" fill="#ff0000"/>
<rect x="235" y="247" width="1" height="24" fill="#32cd32"/>
<rect x="234" y="251" width="3" height="10" fill="#32cd32"/>
<rect x="239" y="244" width="1" height="18" fill="#ff0000"/>
<rect x="238" y="254" width="3" height="8" fill="#ff0000"/>
<rect x="243" y="215" width="1" height="48" fill="#ff0000"/>
<rect x="242" y="225" width="3" height="36" fill="#ff0000"/>
<rect x="247" y="225" width="1" height="23" fill="#32cd32"/>
<rect x="246" y="225" width="3" height="12" fill="#32cd32"/>
<rect x="251" y="236" width="1" height="21" fill="#32cd32"/>
<rect x="250" y="236" width="3" height="16" fill="#32cd32"/>
<rect x="255" y="247" width="1" height="27" fill="#32cd32"/>
<rect x="254" y="251" width="3" height="22" fill="#32cd32"/>
<rect x="259" y="237" width="1" height="45" fill="#ff0000"/>
<rect x="258" y="240" width="3" height="33" fill="#ff0000"/>
<rect x="263" y="237" width="1" height="19" fill="#32cd32"/>
<rect x="262" y="239" width="3" height="11" fill="#32cd32"/>
<rect x="267" y="226" width="1" height="25" fill="#ff0000"/>
<rect x="266" y="238" width="3" height="11" fill="#ff0000"/>
<rect x="271" y="236" width="1" height="16" fill="#32cd32"/>
<rect x="270" y="238" width="3" height="9" fill="#32cd32"/>
<rect x="275" y="243" width="1" height="44" fill="#32cd32"/>
<rect x="274" y="247" width="3" height="34" fill="#32cd32"/>
<rect x="279" y="272" width="1" height="21" fill="#32cd32"/>
<rect x="278" y="280" width="3" height="3" fill="#32cd32"/>
<rect x="283" y="251" width="1" height="32" fill="#ff0000"/>
<rect x="282" y="252" width="3" height="31" fill="#ff0000"/>
<rect x="287" y="245" width="1" height="12" fill="#ff0000"/>
<rect x="286" y="249" width="3" height="4" fill="#ff0000"/>
<rect x="291" y="241" width="1" height="21" fill="#ff0000"/>
<rect x="290" y="242" width="3" height="10" fill="#ff0000"/>
<rect x="295" y="231" width="1" height="28" fill="#32cd32"/>
<rect x="294" y="242" width="3" height="15" fill="#32cd32"/>
<rect x="299" y="219" width="1" height="44" fill="#ff0000"/>
<rect x="298" y="234" width="3" height="23" fill="#ff0000"/>
<rect x="303" y="201" width="1" height="42" fill="#ff0000"/>
<rect x="302" y="224" width="3" height="12" fill="#ff0000"/>
<rect x="307" y="203" width="1" height="44" fill="#32cd32"/>
<rect x="306" y="224" width="3" height="12" fill="#32cd32"/>
<rect x="311" y="220" width="1" height="18" fill="#ff0000"/>
<rect x="310" y="225" width="3" height="11" fill="#ff0000"/>
<rect x="315" y="214" width="1" height="25" fill="#ff0000"/>
<rect x="314" y="215" width="3" height="15" fill="#ff0000"/>
<rect x="319" y="204" width="1" height="29" fill="#32cd32"/>
<rect x="318" y="215" width="3" height="2" fill="#32cd32"/>
<rect x="323" y="215" width="1" height="22" fill="#32cd32"/>
<rect x="322" y="216" width="3" height="14" fill="#32cd32"/>
<rect x="327" y="213" width="1" height="24" fill="#ff0000"/>
<rect x="326" y="214" width="3" height="16" fill="#ff0000"/>
<rect x="331" y="212" width="1" height="24" fill="#32cd32"/>
<rect x="330" y="214" width="3" height="21" fill="#32cd32"/>
<rect x="335" y="231" width="1" height="7" fill="#32cd32"/>
<rect x="334" y="234" width="3" height="3" fill="#32cd32"/>
<rect x="339" y="231" width="1" height="14" fill="#32cd32"/>
<rect x="338" y="239" width="3" height="3" fill="#32cd32"/>
<rect x="343" y="235" width="1" height="19" fill="#32cd32"/>
<rect x="342" y="240" width="3" height="12" fill="#32cd32"/>
<rect x="347" y="246" width="1" height="22" fill="#32cd32"/>
<rect x="346" y="251" width="3" height="12" fill="#32cd32"/>
<rect x="351" y="254" width="1" height="16" fill="#ff0000"/>
<rect x="350" y="262" width="3" height="1" fill="#ff0000"/>
<rect x="355" y="236" width="1" height="28" fill="#ff0000"/>
<rect x="354" y="256" width="3" height="7" fill="#ff0000"/>
<rect x="359" y="253" width="1" height="12" fill="#32cd32"/>
<rect x="358" y="256" width="3" height="1" fill="#32cd32"/>
<rect x="363" y="260" width="1" height="17" fill="#32cd32"/>
<rect x="362" y="262" width="3" height="14" fill="#32cd32"/>
<rect x="367" y="258" width="1" height="28" fill="#ff0000"/>
<rect x="366" y="263" width="3" height="13" fill="#ff0000"/>
<rect x="371" y="243" width="1" height="24" fill="#ff0000"/>
<rect x="370" y="249" width="3" height="16" fill="#ff0000"/>
<rect x="375" y="245" width="1" height="24" fill="#32cd32"/>
<rect x="374" y="249" width="3" height="3" fill="#32cd32"/>
<rect x="379" y="249" width="1" height="39" fill="#32cd32"/>
<rect x="378" y="251" width="3" height="36" fill="#32cd32"/>
<rect x="383" y="279" width="1" height="12" fill="#ff0000"/>
<rect x="382" y="282" width="3" height="5" fill="#ff0000"/>
<rect x="387" y="272" width="1" height="23" fill="#ff0000"/>
<rect x="386" y="284" width="3" height="2" fill="#ff0000"/>
<rect x="391" y="274" width="1" height="20" fill="#32cd32"/>
<rect x="390" y="284" width="3" height="6" fill="#32cd32"/>
<rect x="395" y="284" width="1" height="21" fill="#32cd32"/>
<rect x="394" y="289" width="3" height="10" fill="#32cd32"/>
<rect x="399" y="299" width="1" height="31" fill="#32cd32"/>
<rect x="398" y="299" width="3" height="17" fill="#32cd32"/>
<rect x="403" y="262" width="1" height="55" fill="#ff0000"/>
<rect x="402" y="270" width="3" height="46" fill="#ff0000"/>
<rect x="407" y="248" width="1" height="24" fill="#ff0000"/>
<rect x="406" y="255" width="3" height="16" fill="#ff0000"/>
<rect x="411" y="247" width="1" height="27" fill="#32cd32"/>
<rect x="410" y="247" width="3" height="24" fill="#32cd32"/>
<rect x="415" y="258" width="1" height="26" fill="#32cd32"/>
<rect x="414" y="271" width="3" height="11" fill="#32cd32"/>
<rect x="419" y="270" width="1" height="22" fill="#ff0000"/>
<rect x="418" y="280" width="3" height="2" fill="#ff0000"/>
<rect x="423" y="265" width="1" height="23" fill="#32cd32"/>
<rect x="422" y="280" width="3" height="7" fill="#32cd32"/>
<rect x="427" y="246" width="1" height="51" fill="#ff0000"/>
<rect x="426" y="261" width="3" height="26" fill="#ff0000"/>
<rect x="431" y="258" width="1" height="11" fill="#32cd32"/>
<rect x="430" y="262" width="3" height="6" fill="#32cd32"/>
<rect x="435" y="257" width="1" height="25" fill="#ff0000"/>
<rect x="434" y="269" width="3" height="4" fill="#ff0000"/>
<rect x="439" y="262" width="1" height="30" fill="#32cd32"/>
<rect x="438" y="269" width="3" height="6" fill="#32cd32"/>
<rect x="443" y="262" width="1" height="23" fill="#32cd32"/>
<rect x="442" y="273" width="3" height="2" fill="#32cd32"/>
<rect x="447" y="269" width="1" height="31" fill="#32cd32"/>
<rect x="446" y="275" width="3" height="24" fill="#32cd32"/>
<rect x="451" y="295" width="1" height="28" fill="#32cd32"/>
<rect x="450" y="298" width="3" height="24" fill="#32cd32"/>
<rect x="455" y="319" width="1" height="13" fill="#32cd32"/>
<rect x="454" y="321" width="3" height="10" fill="#32cd32"/>
<rect x="459" y="316" width="1" height="23" fill="#ff0000"/>
<rect x="458" y="323" width="3" height="5" fill="#ff0000"/>
<rect x="463" y="320" width="1" height="17" fill="#32cd32"/>
<rect x="462" y="322" width="3" height="14" fill="#32cd32"/>
<rect x="467" y="323" width="1" height="18" fill="#ff0000"/>
<rect x="466" y="327" width="3" height="9" fill="#ff0000"/>
<rect x="471" y="322" width="1" height="41" fill="#32cd32"/>
<rect x="470" y="327" width="3" height="14" fill="#32cd32"/>
<rect x="475" y="305" width="1" height="40" fill="#ff0000"/>
<rect x="474" y="316" width="3" height="25" fill="#ff0000"/>
<rect x="479" y="316" width="1" height="10" fill="#32cd32"/>
<rect x="478" y="316" width="3" height="6" fill="#32cd32"/>
<rect x="483" y="308" width="1" height="21" fill="#ff0000"/>
<rect x="482" y="311" width="3" height="1" fill="#ff0000"/>
<rect x="487" y="290" width="1" height="29" fill="#ff0000"/>
<rect x="486" y="304" width="3" height="8" fill="#ff0000"/>
<rect x="491" y="286" width="1" height="26" fill="#ff0000"/>
<rect x="490" y="303" width="3" height="2" fill="#ff0000"/>
<rect x="495" y="279" width="1" height="28" fill="#ff0000"/>
<rect x="494" y="284" width="3" height="21" fill="#ff0000"/>
<rect x="499" y="281" width="1" height="20" fill="#32cd32"/>
<rect x="498" y="284" width="3" height="12" fill="#32cd32"/>
<rect x="503" y="286" width="1" height="12" fill="#ff0000"/>
<rect x="502" y="290" width="3" height="6" fill="#ff0000"/>
<rect x="507" y="280" width="1" height="16" fill="#ff0000"/>
<rect x="506" y="291" width="3" height="4" fill="#ff0000"/>
<rect x="511" y="274" width="1" height="22" fill="#ff0000"/>
<rect x="510" y="280" width="3" height="12" fill="#ff0000"/>
<rect x="515" y="275" width="1" height="33" fill="#32cd32"/>
<rect x="514" y="280" width="3" height="18" fill="#32cd32"/>
<rect x="519" y="288" width="1" height="15" fill="#32cd32"/>
<rect x="518" y="297" width="3" height="2" fill="#32cd32"/>
<rect x="523" y="298" width="1" height="10" fill="#32cd32"/>
<rect x="522" y="298" width="3" height="8" fill="#32cd32"/>
<rect x="527" y="297" width="1" height="7" fill="#ff0000"/>
<rect x="526" y="298" width="3" height="4" fill="#ff0000"/>
<rect x="531" y="290" width="1" height="30" fill="#32cd32"/>
<rect x="530" y="298" width="3" height="18" fill="#32cd32"/>
<rect x="535" y="296" width="1" height="21" fill="#ff0000"/>
<rect x="534" y="307" width="3" height="9" fill="#ff0000"/>
<rect x="539" y="278" width="1" height="30" fill="#ff0000"/>
<rect x="538" y="284" width="3" height="24" fill="#ff0000"/>
<rect x="543" y="278" width="1" height="19" fill="#32cd32"/>
<rect x="542" y="284" width="3" height="13" fill="#32cd32"/>
<rect x="547" y="285" width="1" height="23" fill="#32cd32"/>
<rect x="546" y="296" width="3" height="12" fill="#32cd32"/>
<rect x="551" y="306" width="1" height="6" fill="#32cd32"/>
<rect x="550" y="307" width="3" height="4" fill="#32cd32"/>
<rect x="555" y="297" width="1" height="15" fill="#ff0000"/>
<rect x="554" y="301" width="3" height="9" fill="#ff0000"/>
<rect x="559" y="280" width="1" height="28" fill="#32cd32"/>
<rect x="558" y="301" width="3" height="6" fill="#32cd32"/>
<rect x="563" y="296" width="1" height="21" fill="#32cd32"/>
<rect x="562" y="306" width="3" height="10" fill="#32cd32"/>
<rect x="567" y="301" width="1" height="27" fill="#ff0000"/>
<rect x="566" y="307" width="3" height="9" fill="#ff0000"/>
<rect x="571" y="301" width="1" height="21" fill="#32cd32"/>
<rect x="570" y="307" width="3" height="14" fill="#32cd32"/>
<rect x="575" y="317" width="1" height="5" fill="#ff0000"/>
<rect x="574" y="318" width="3" height="3" fill="#ff0000"/>
<rect x="579" y="308" width="1" height="22" fill="#ff0000"/>
<rect x="578" y="309" width="3" height="7" fill="#ff0000"/>
<rect x="583" y="292" width="1" height="35" fill="#ff0000"/>
<rect x="582" y="296" width="3" height="14" fill="#ff0000"/>
<rect x="587" y="272" width="1" height="61" fill="#32cd32"/>
<rect x="586" y="296" width="3" height="28" fill="#32cd32"/>
<rect x="591" y="308" width="1" height="21" fill="#ff0000"/>
<rect x="590" y="322" width="3" height="4" fill="#ff0000"/>
<rect x="595" y="316" width="1" height="14" fill="#ff0000"/>
<rect x="594" y="322" width="3" height="2" fill="#ff0000"/>
<rect x="599" y="317" width="1" height="13" fill="#32cd32"/>
<rect x="598" y="321" width="3" height="8" fill="#32cd32"/>
<rect x="603" y="323" width="1" height="34" fill="#32cd32"/>
<rect x="602" y="324" width="3" height="27" fill="#32cd32"/>
<rect x="607" y="345" width="1" height="10" fill="#32cd32"/>
<rect x="606" y="351" width="3" height="2" fill="#32cd32"/>
<rect x="611" y="345" width="1" height="22" fill="#32cd32"/>
<rect x="610" y="352" width="3" height="14" fill="#32cd32"/>
<rect x="615" y="364" width="1" height="25" fill="#32cd32"/>
<rect x="614" y="365" width="3" height="20" fill="#32cd32"/>
<rect x="619" y="375" width="1" height="19" fill="#32cd32"/>
<rect x="618" y="384" width="3" height="2" fill="#32cd32"/>
<rect x="623" y="383" width="1" height="7" fill="#32cd32"/>
<rect x="622" y="385" width="3" height="4" fill="#32cd32"/>
<rect x="627" y="376" width="1" height="17" fill="#32cd32"/>
<rect x="626" y="387" width="3" height="3" fill="#32cd32"/>
<rect x="631" y="366" width="1" height="27" fill="#ff0000"/>
<rect x="630" y="376" width="3" height="15" fill="#ff0000"/>
<rect x="635" y="375" width="1" height="23" fill="#32cd32"/>
<rect x="634" y="376" width="3" height="19" fill="#32cd32"/>
<rect x="639" y="386" width="1" height="34" fill="#32cd32"/>
<rect x="638" y="394" width="3" height="22" fill="#32cd32"/>
<rect x="643" y="414" width="1" height="23" fill="#32cd32"/>
<rect x="642" y="415" width="3" height="19" fill="#32cd32"/>
<rect x="647" y="426" width="1" height="8" fill="#ff0000"/>
<rect x="646" y="432" width="3" height="2" fill="#ff0000"/>
<rect x="651" y="435" width="1" height="16" fill="#32cd32"/>
<rect x="650" y="436" width="3" height="14" fill="#32cd32"/>
<rect x="655" y="436" width="1" height="16" fill="#ff0000"/>
<rect x="654" y="447" width="3" height="3" fill="#ff0000"/>
<rect x="659" y="434" width="1" height="28" fill="#ff0000"/>
<rect x="658" y="443" width="3" height="5" fill="#ff0000"/>
<rect x="663" y="427" width="1" height="19" fill="#ff0000"/>
<rect x="662" y="430" width="3" height="14" fill="#ff0000"/>
<rect x="667" y="412" width="1" height="40" fill="#32cd32"/>
<rect x="666" y="430" width="3" height="11" fill="#32cd32"/>
<rect x="671" y="436" width="1" height="7" fill="#32cd32"/>
<rect x="670" y="440" width="3" height="2" fill="#32cd32"/>
<rect x="675" y="433" width="1" height="22" fill="#32cd32"/>
<rect x="674" y="439" width="3" height="15" fill="#32cd32"/>
<rect x="679" y="450" width="1" height="23" fill="#32cd32"/>
<rect x="678" y="453" width="3" height="5" fill="#32cd32"/>
<rect x="683" y="437" width="1" height="24" fill="#ff0000"/>
<rect x="682" y="448" width="3" height="10" fill="#ff0000"/>
<rect x="687" y="431" width="1" height="30" fill="#32cd32"/>
<rect x="686" y="448" width="3" height="13" fill="#32cd32"/>
<rect x="691" y="446" width="1" height="22" fill="#ff0000"/>
<rect x="690" y="453" width="3" height="8" fill="#ff0000"/>
<rect x="695" y="446" width="1" height="11" fill="#32cd32"/>
<rect x="694" y="453" width="3" height="4" fill="#32cd32"/>
<rect x="699" y="449" width="1" height="12" fill="#ff0000"/>
<rect x="698" y="450" width="3" height="3" fill="#ff0000"/>
<rect x="703" y="449" width="1" height="19" fill="#32cd32"/>
<rect x="702" y="450" width="3" height="5" fill="#32cd32"/>
<rect x="707" y="436" width="1" height="27" fill="#ff0000"/>
<rect x="706" y="441" width="3" height="14" fill="#ff0000"/>
<rect x="711" y="431" width="1" height="28" fill="#32cd32"/>
<rect x="710" y="440" width="3" height="13" fill="#32cd32"/>
<rect x="715" y="438" width="1" height="19" fill="#ff0000"/>
<rect x="714" y="448" width="3" height="5" fill="#ff0000"/>
<rect x="719" y="447" width="1" height="7" fill="#32cd32"/>
<rect x="718" y="448" width="3" height="4" fill="#32cd32"/>
<rect x="723" y="447" width="1" height="11" fill="#32cd32"/>
<rect x="722" y="452" width="3" height="3" fill="#32cd32"/>
<rect x="727" y="453" width="1" height="22" fill="#32cd32"/>
<rect x="726" y="454" width="3" height="13" fill="#32cd32"/>
<rect x="731" y="447" width="1" height="20" fill="#ff0000"/>
<rect x="730" y="461" width="3" height="6" fill="#ff0000"/>
<rect x="735" y="438" width="1" height="30" fill="#ff0000"/>
<rect x="734" y="439" width="3" height="23" fill="#ff0000"/>
<rect x="739" y="434" width="1" height="20" fill="#32cd32"/>
<rect x="738" y="439" width="3" height="10" fill="#32cd32"/>
<rect x="743" y="448" width="1" height="6" fill="#32cd32"/>
<rect x="742" y="448" width="3" height="5" fill="#32cd32"/>
<rect x="747" y="442" width="1" height="15" fill="#32cd32"/>
<rect x="746" y="451" width="3" height="6" fill="#32cd32"/>
<rect x="751" y="444" width="1" height="15" fill="#ff0000"/>
<rect x="750" y="444" width="3" height="13" fill="#ff0000"/>
<rect x="755" y="439" width="1" height="20" fill="#ff0000"/>
<rect x="754" y="444" width="3" height="1" fill="#ff0000"/>
<rect x="759" y="437" width="1" height="18" fill="#32cd32"/>
<rect x="758" y="444" width="3" height="3" fill="#32cd32"/>
<rect x="763" y="425" width="1" height="27" fill="#ff0000"/>
<rect x="762" y="425" width="3" height="22" fill="#ff0000"/>
<rect x="767" y="420" width="1" height="7" fill="#ff0000"/>
<rect x="766" y="423" width="3" height="3" fill="#ff0000"/>
<rect x="771" y="422" width="1" height="15" fill="#32cd32"/>
<rect x="770" y="426" width="3" height="8" fill="#32cd32"/>
<rect x="775" y="412" width="1" height="24" fill="#ff0000"/>
<rect x="774" y="412" width="3" height="22" fill="#ff0000"/>
<rect x="779" y="412" width="1" height="13" fill="#32cd32"/>
<rect x="778" y="412" width="3" height="13" fill="#32cd32"/>
<rect x="783" y="364" width="1" height="64" fill="#ff0000"/>
<rect x="782" y="365" width="3" height="60" fill="#ff0000"/>
<rect x="787" y="326" width="1" height="45" fill="#ff0000"/>
<rect x="786" y="339" width="3" height="27" fill="#ff0000"/>
<rect x="791" y="338" width="1" height="9" fill="#32cd32"/>
<rect x="790" y="339" width="3" height="5" fill="#32cd32"/>
<rect x="795" y="324" width="1" height="38" fill="#32cd32"/>
<rect x="794" y="336" width="3" height="25" fill="#32cd32"/>
<rect x="799" y="350" width="1" height="16" fill="#32cd32"/>
<rect x="798" y="360" width="3" height="3" fill="#32cd32"/>
<rect x="803" y="362" width="1" height="36" fill="#32cd32"/>
<rect x="802" y="362" width="3" height="25" fill="#32cd32"/>
<rect x="807" y="369" width="1" height="20" fill="#ff0000"/>
<rect x="806" y="370" width="3" height="17" fill="#ff0000"/>
<rect x="811" y="370" width="1" height="21" fill="#32cd32"/>
<rect x="810" y="370" width="3" height="15" fill="#32cd32"/>
<rect x="815" y="379" width="1" height="7" fill="#ff0000"/>
<rect x="814" y="380" width="3" height="5" fill="#ff0000"/>
<rect x="819" y="367" width="1" height="19" fill="#ff0000"/>
<rect x="818" y="374" width="3" height="10" fill="#ff0000"/>
<rect x="823" y="351" width="1" height="24" fill="#ff0000"/>
<rect x="822" y="358" width="3" height="17" fill="#ff0000"/>
<rect x="827" y="344" width="1" height="22" fill="#ff0000"/>
<rect x="826" y="349" width="3" height="10" fill="#ff0000"/>
<rect x="831" y="342" width="1" height="21" fill="#ff0000"/>
<rect x="830" y="349" width="3" height="2" fill="#ff0000"/>
<rect x="835" y="335" width="1" height="35" fill="#32cd32"/>
<rect x="834" y="349" width="3" height="20" fill="#32cd32"/>
<rect x="839" y="366" width="1" height="14" fill="#32cd32"/>
<rect x="838" y="368" width="3" height="11" fill="#32cd32"/>
<rect x="843" y="360" width="1" height="15" fill="#ff0000"/>
<rect x="842" y="373" width="3" height="1" fill="#ff0000"/>
<rect x="847" y="321" width="1" height="61" fill="#ff0000"/>
<rect x="846" y="330" width="3" height="44" fill="#ff0000"/>
<rect x="851" y="314" width="1" height="31" fill="#ff0000"/>
<rect x="850" y="317" width="3" height="15" fill="#ff0000"/>
<rect x="855" y="291" width="1" height="46" fill="#ff0000"/>
<rect x="854" y="309" width="3" height="9" fill="#ff0000"/>
<rect x="859" y="302" width="1" height="29" fill="#32cd32"/>
<rect x="858" y="309" width="3" height="19" fill="#32cd32"/>
<rect x="863" y="325" width="1" height="10" fill="#32cd32"/>
<rect x="862" y="327" width="3" height="8" fill="#32cd32"/>
<rect x="867" y="315" width="1" height="22" fill="#ff0000"/>
<rect x="866" y="334" width="3" height="2" fill="#ff0000"/>
<rect x="871" y="307" width="1" height="32" fill="#ff0000"/>
<rect x="870" y="316" width="3" height="18" fill="#ff0000"/>
<rect x="875" y="311" width="1" height="33" fill="#ff0000"/>
<rect x="874" y="312" width="3" height="6" fill="#ff0000"/>
<rect x="879" y="292" width="1" height="30" fill="#ff0000"/>
<rect x="878" y="294" width="3" height="20" fill="#ff0000"/>
<rect x="883" y="284" width="1" height="18" fill="#ff0000"/>
<rect x="882" y="292" width="3" height="3" fill="#ff0000"/>
<rect x="887" y="286" width="1" height="10" fill="#ff0000"/>
<rect x="886" y="287" width="3" height="6" fill="#ff0000"/>
<rect x="891" y="224" width="1" height="61" fill="#ff0000"/>
<rect x="890" y="241" width="3" height="42" fill="#ff0000"/>
<rect x="895" y="230" width="1" height="20" fill="#32cd32"/>
<rect x="894" y="241" width="3" height="9" fill="#32cd32"/>
<rect x="899" y="247" width="1" height="66" fill="#32cd32"/>
<rect x="898" y="250" width="3" height="58" fill="#32cd32"/>
<rect x="903" y="290" width="1" height="22" fill="#ff0000"/>
<rect x="902" y="295" width="3" height="13" fill="#ff0000"/>
<rect x="907" y="286" width="1" height="18" fill="#ff0000"/>
<rect x="906" y="294" width="3" height="3" fill="#ff0000"/>
<rect x="911" y="294" width="1" height="4" fill="#32cd32"/>
<rect x="910" y="294" width="3" height="3" fill="#32cd32"/>
<rect x="915" y="291" width="1" height="20" fill="#32cd32"/>
<rect x="914" y="298" width="3" height="10" fill="#32cd32"/>
<rect x="919" y="290" width="1" height="19" fill="#ff0000"/>
<rect x="918" y="294" width="3" height="14" fill="#ff0000"/>
<rect x="923" y="287" width="1" height="11" fill="#ff0000"/>
<rect x="922" y="291" width="3" height="4" fill="#ff0000"/>
</g>
</g>
<g shape-rendering="crispEdges">
<rect x="2" y="226" width="6" height="6" fill="#ff0000"/>
<rect x="4" y="228" width="2" height="2" fill="#fff"/>
<rect x="1159" y="226" width="6" height="6" fill="#ff0000"/>
<rect x="1161" y="228" width="2" height="2" fill="#fff"/>
<rect x="2" y="272" width="6" height="6" fill="#00ff00"/>
<rect x="4" y="274" width="2" height="2" fill="#fff"/>
<rect x="1159" y="272" width="6" height="6" fill="#00ff00"/>
<rect x="1161" y="274" width="2" height="2" fill="#fff"/>
<rect x="2" y="321" width="6" height="6" fill="#0000ff"/>
<rect x="4" y="323" width="2" height="2" fill="#fff"/>
<rect x="1159" y="321" width="6" height="6" fill="#0000ff"/>
<rect x="1161" y="323" width="2" height="2" fill="#fff"/>
<rect x="2" y="376" width="6" height="6" fill="#0000ff"/>
<rect x="4" y="378" width="2" height="2" fill="#fff"/>
<rect x="1159" y="376" width="6" height="6" fill="#0000ff"/>
<rect x="1161" y="378" width="2" height="2" fill="#fff"/>
</g>
<g clip-path="url(#cd)">
<g shape-rendering="crispEdges" fill="#c0c0c0">
<rect x="2" y="524" width="3" height="5"/>
<rect x="6" y="522" width="3" height="7"/>
<rect x="10" y="521" width="3" height="8"/>
<rect x="14" y="526" width="3" height="3"/>
<rect x="18" y="529" width="3" height="1"/>
<rect x="22" y="529" width="3" height="6"/>
<rect x="26" y="529" width="3" height="10"/>
<rect x="30" y="529" width="3" height="13"/>
<rect x="34" y="529" width="3" height="17"/>
<rect x="38" y="529" width="3" height="19"/>
<rect x="42" y="529" width="3" height="18"/>
<rect x="46" y="529" width="3" height="16"/>
<rect x="50" y="529" width="3" height="13"/>
<rect x="54" y="529" width="3" height="12"/>
<rect x="58" y="529" width="3" height="12"/>
<rect x="62" y="529" width="3" height="11"/>
<rect x="66" y="529" width="3" height="12"/>
<rect x="70" y="529" width="3" height="11"/>
<rect x="74" y="529" width="3" height="11"/>
<rect x="78" y="529" width="3" height="10"/>
<rect x="82" y="529" width="3" height="10"/>
<rect x="86" y="529" width="3" height="11"/>
<rect x="90" y="529" width="3" height="12"/>
<rect x="94" y="529" width="3" height="13"/>
<rect x="98" y="529" width="3" height="14"/>
<rect x="102" y="529" width="3" height="15"/>
<rect x="106" y="529" width="3" height="16"/>
<rect x="110" y="529" width="3" height="17"/>
<rect x="114" y="529" width="3" height="18"/>
<rect x="118" y="529" width="3" height="20"/>
<rect x="122" y="529" width="3" height="24"/>
<rect x="126" y="529" width="3" height="26"/>
<rect x="130" y="529" width="3" height="29"/>
<rect x="134" y="529" width="3" height="30"/>
<rect x="138" y="529" width="3" height="30"/>
<rect x="142" y="529" width="3" height="33"/>
<rect x="146" y="529" width="3" height="33"/>
<rect x="150" y="529" width="3" height="32"/>
<rect x="154" y="529" width="3" height="30"/>
<rect x="158" y="529" width="3" height="31"/>
<rect x="162" y="529" width="3" height="30"/>
<rect x="166" y="529" width="3" height="30"/>
<rect x="170" y="529" width="3" height="29"/>
<rect x="174" y="529" width="3" height="27"/>
<rect x="178" y="529" width="3" height="22"/>
<rect x="182" y="529" width="3" height="17"/>
<rect x="186" y="529" width="3" height="15"/>
<rect x="190" y="529" width="3" height="13"/>
<rect x="194" y="529" width="3" height="12"/>
<rect x="198" y="529" width="3" height="10"/>
<rect x="202" y="529" width="3" height="10"/>
<rect x="206" y="529" width="3" height="12"/>
<rect x="210" y="529" width="3" height="13"/>
<rect x="214" y="529" width="3" height="15"/>
<rect x="218" y="529" width="3" height="15"/>
<rect x="222" y="529" width="3" height="16"/>
<rect x="226" y="529" width="3" height="17"/>
<rect x="230" y="529" width="3" height="17"/>
<rect x="234" y="529" width="3" height="17"/>
<rect x="238" y="529" width="3" height="17"/>
<rect x="242" y="529" width="3" height="14"/>
<rect x="246" y="529" width="3" height="13"/>
<rect x="250" y="529" width="3" height="13"/>
<rect x="254" y="529" width="3" height="14"/>
<rect x="258" y="529" width="3" height="13"/>
<rect x="262" y="529" width="3" height="12"/>
<rect x="266" y="529" width="3" height="11"/>
<rect x="270" y="529" width="3" height="10"/>
<rect x="274" y="529" width="3" height="12"/>
<rect x="278" y="529" width="3" height="14"/>
<rect x="282" y="529" width="3" height="12"/>
<rect x="286" y="529" width="3" height="11"/>
<rect x="290" y="529" width="3" height="10"/>
<rect x="294" y="529" width="3" height="8"/>
<rect x="298" y="529" width="3" height="7"/>
<rect x="302" y="529" width="3" height="4"/>
<rect x="306" y="529" width="3" height="2"/>
<rect x="310" y="529" width="3" height="1"/>
<rect x="314" y="527" width="3" height="2"/>
<rect x="318" y="525" width="3" height="4"/>
<rect x="322" y="525" width="3" height="4"/>
<rect x="326" y="523" width="3" height="6"/>
<rect x="330" y="524" width="3" height="5"/>
<rect x="334" y="525" width="3" height="4"/>
<rect x="338" y="527" width="3" height="2"/>
<rect x="342" y="529" width="3" height="1"/>
<rect x="346" y="529" width="3" height="2"/>
<rect x="350" y="529" width="3" height="4"/>
<rect x="354" y="529" width="3" height="5"/>
<rect x="358" y="529" width="3" height="6"/>
<rect x="362" y="529" width="3" height="8"/>
<rect x="366" y="529" width="3" height="8"/>
<rect x="370" y="529" width="3" height="7"/>
<rect x="374" y="529" width="3" height="6"/>
<rect x="378" y="529" width="3" height="8"/>
<rect x="382" y="529" width="3" height="11"/>
<rect x="386" y="529" width="3" height="12"/>
<rect x="390" y="529" width="3" height="13"/>
<rect x="394" y="529" width="3" height="15"/>
<rect x="398" y="529" width="3" height="18"/>
<rect x="402" y="529" width="3" height="16"/>
<rect x="406" y="529" width="3" height="13"/>
<rect x="410" y="529" width="3" height="11"/>
<rect x="414" y="529" width="3" height="11"/>
<rect x="418" y="529" width="3" height="11"/>
<rect x="422" y="529" width="3" height="11"/>
<rect x="426" y="529" width="3" height="9"/>
<rect x="430" y="529" width="3" height="8"/>
<rect x="434" y="529" width="3" height="7"/>
<rect x="438" y="529" width="3" height="6"/>
<rect x="442" y="529" width="3" height="6"/>
<rect x="446" y="529" width="3" height="8"/>
<rect x="450" y="529" width="3" height="11"/>
<rect x="454" y="529" width="3" height="15"/>
<rect x="458" y="529" width="3" height="16"/>
<rect x="462" y="529" width="3" height="19"/>
<rect x="466" y="529" width="3" height="20"/>
<rect x="470" y="529" width="3" height="21"/>
<rect x="474" y="529" width="3" height="20"/>
<rect x="478" y="529" width="3" height="20"/>
<rect x="482" y="529" width="3" height="17"/>
<rect x="486" y="529" width="3" height="16"/>
<rect x="490" y="529" width="3" height="14"/>
<rect x="494" y="529" width="3" height="11"/>
<rect x="498" y="529" width="3" height="8"/>
<rect x="502" y="529" width="3" height="7"/>
<rect x="506" y="529" width="3" height="5"/>
<rect x="510" y="529" width="3" height="3"/>
<rect x="514" y="529" width="3" height="3"/>
<rect x="518" y="529" width="3" height="3"/>
<rect x="522" y="529" width="3" height="3"/>
<rect x="526" y="529" width="3" height="3"/>
<rect x="530" y="529" width="3" height="4"/>
<rect x="534" y="529" width="3" height="5"/>
<rect x="538" y="529" width="3" height="3"/>
<rect x="542" y="529" width="3" height="2"/>
<rect x="546" y="529" width="3" height="3"/>
<rect x="550" y="529" width="3" height="4"/>
<rect x="554" y="529" width="3" height="3"/>
<rect x="558" y="529" width="3" height="3"/>
<rect x="562" y="529" width="3" height="5"/>
<rect x="566" y="529" width="3" height="5"/>
<rect x="570" y="529" width="3" height="6"/>
<rect x="574" y="529" width="3" height="6"/>
<rect x="578" y="529" width="3" height="6"/>
<rect x="582" y="529" width="3" height="4"/>
<rect x="586" y="529" width="3" height="5"/>
<rect x="590" y="529" width="3" height="5"/>
<rect x="594" y="529" width="3" height="7"/>
<rect x="598" y="529" width="3" height="8"/>
<rect x="602" y="529" width="3" height="10"/>
<rect x="606" y="529" width="3" height="12"/>
<rect x="610" y="529" width="3" height="15"/>
<rect x="614" y="529" width="3" height="19"/>
<rect x="618" y="529" width="3" height="21"/>
<rect x="622" y="529" width="3" height="24"/>
<rect x="626" y="529" width="3" height="24"/>
<rect x="630" y="529" width="3" height="24"/>
<rect x="634" y="529" width="3" height="26"/>
<rect x="638" y="529" width="3" height="29"/>
<rect x="642" y="529" width="3" height="31"/>
<rect x="646" y="529" width="3" height="33"/>
<rect x="650" y="529" width="3" height="36"/>
<rect x="654" y="529" width="3" height="37"/>
<rect x="658" y="529" width="3" height="39"/>
<rect x="662" y="529" width="3" height="37"/>
<rect x="666" y="529" width="3" height="36"/>
<rect x="670" y="529" width="3" height="36"/>
<rect x="674" y="529" width="3" height="36"/>
<rect x="678" y="529" width="3" height="36"/>
<rect x="682" y="529" width="3" height="36"/>
<rect x="686" y="529" width="3" height="34"/>
<rect x="690" y="529" width="3" height="33"/>
<rect x="694" y="529" width="3" height="32"/>
<rect x="698" y="529" width="3" height="31"/>
<rect x="702" y="529" width="3" height="30"/>
<rect x="706" y="529" width="3" height="27"/>
<rect x="710" y="529" width="3" height="26"/>
<rect x="714" y="529" width="3" height="24"/>
<rect x="718" y="529" width="3" height="23"/>
<rect x="722" y="529" width="3" height="22"/>
<rect x="726" y="529" width="3" height="22"/>
<rect x="730" y="529" width="3" height="20"/>
<rect x="734" y="529" width="3" height="18"/>
<rect x="738" y="529" width="3" height="17"/>
<rect x="742" y="529" width="3" height="16"/>
<rect x="746" y="529" width="3" height="14"/>
<rect x="750" y="529" width="3" height="13"/>
<rect x="754" y="529" width="3" height="11"/>
<rect x="758" y="529" width="3" height="11"/>
<rect x="762" y="529" width="3" height="8"/>
<rect x="766" y="529" width="3" height="6"/>
<rect x="770" y="529" width="3" height="5"/>
<rect x="774" y="529" width="3" height="2"/>
<rect x="778" y="528" width="3" height="1"/>
<rect x="782" y="522" width="3" height="7"/>
<rect x="786" y="515" width="3" height="14"/>
<rect x="790" y="510" width="3" height="19"/>
<rect x="794" y="508" width="3" height="21"/>
<rect x="798" y="506" width="3" height="23"/>
<rect x="802" y="508" width="3" height="21"/>
<rect x="806" y="508" width="3" height="21"/>
<rect x="810" y="509" width="3" height="20"/>
<rect x="814" y="510" width="3" height="19"/>
<rect x="818" y="510" width="3" height="19"/>
<rect x="822" y="509" width="3" height="20"/>
<rect x="826" y="508" width="3" height="21"/>
<rect x="830" y="507" width="3" height="22"/>
<rect x="834" y="509" width="3" height="20"/>
<rect x="838" y="511" width="3" height="18"/>
<rect x="842" y="512" width="3" height="17"/>
<rect x="846" y="511" width="3" height="18"/>
<rect x="850" y="507" width="3" height="22"/>
<rect x="854" y="504" width="3" height="25"/>
<rect x="858" y="504" width="3" height="25"/>
<rect x="862" y="504" width="3" height="25"/>
<rect x="866" y="505" width="3" height="24"/>
<rect x="870" y="504" width="3" height="25"/>
<rect x="874" y="504" width="3" height="25"/>
<rect x="878" y="502" width="3" height="27"/>
<rect x="882" y="501" width="3" height="28"/>
<rect x="886" y="500" width="3" height="29"/>
<rect x="890" y="495" width="3" height="34"/>
<rect x="894" y="492" width="3" height="37"/>
<rect x="898" y="496" width="3" height="33"/>
<rect x="902" y="498" width="3" height="31"/>
<rect x="906" y="500" width="3" height="29"/>
<rect x="910" y="502" width="3" height="27"/>
<rect x="914" y="505" width="3" height="24"/>
<rect x="918" y="506" width="3" height="23"/>
<rect x="922" y="507" width="3" height="22"/>
</g>
<g shape-rendering="crispEdges"><path d="M909 498.5h5M901 499.5h8M914 499.5h8M896 500.5h5M922 500.5h1M892 501.5h4M888 502.5h4M884 503.5h4M881 504.5h3M877 505.5h4M873 506.5h4M861 507.5h12M826 508.5h8M858 508.5h3M818 509.5h8M834 509.5h8M849 509.5h9M815 510.5h3M842 510.5h7M813 511.5h2M811 512.5h2M809 513.5h2M807 514.5h2M806 515.5h1M804 516.5h2M803 517.5h1M802 518.5h1M800 519.5h2M799 520.5h1M798 521.5h1M797 522.5h1M795 523.5h2M794 524.5h1M793 525.5h1M336 526.5h19M792 526.5h1M332 527.5h4M355 527.5h3M791 527.5h1M15 528.5h16M328 528.5h4M358 528.5h3M790 528.5h1M12 529.5h3M31 529.5h2M325 529.5h3M361 529.5h2M789 529.5h1M10 530.5h2M33 530.5h1M323 530.5h2M363 530.5h3M788 530.5h1M9 531.5h1M34 531.5h2M321 531.5h2M366 531.5h4M536 531.5h27M787 531.5h1M7 532.5h2M36 532.5h1M318 532.5h3M370 532.5h4M528 532.5h8M563 532.5h21M785 532.5h2M5 533.5h2M37 533.5h2M316 533.5h2M374 533.5h4M525 533.5h3M584 533.5h10M783 533.5h2M4 534.5h1M39 534.5h1M314 534.5h2M378 534.5h4M522 534.5h3M594 534.5h9M781 534.5h2M2 535.5h2M40 535.5h2M311 535.5h3M382 535.5h4M520 535.5h2M603 535.5h8M779 535.5h2M42 536.5h2M307 536.5h4M386 536.5h4M444 536.5h14M518 536.5h2M611 536.5h2M777 536.5h2M44 537.5h2M304 537.5h3M390 537.5h4M440 537.5h4M458 537.5h4M515 537.5h3M613 537.5h2M774 537.5h3M46 538.5h1M300 538.5h4M394 538.5h5M436 538.5h4M462 538.5h2M513 538.5h2M615 538.5h2M772 538.5h2M47 539.5h2M78 539.5h28M297 539.5h3M399 539.5h4M432 539.5h4M464 539.5h2M510 539.5h3M617 539.5h1M769 539.5h3M49 540.5h2M75 540.5h3M106 540.5h5M285 540.5h12M403 540.5h5M428 540.5h4M466 540.5h3M508 540.5h2M618 540.5h2M767 540.5h2M51 541.5h4M71 541.5h4M111 541.5h4M212 541.5h18M269 541.5h16M408 541.5h20M469 541.5h3M506 541.5h2M620 541.5h2M765 541.5h2M55 542.5h3M68 542.5h3M115 542.5h3M208 542.5h4M230 542.5h4M265 542.5h4M472 542.5h3M504 542.5h2M622 542.5h3M762 542.5h3M58 543.5h10M118 543.5h2M206 543.5h2M234 543.5h5M249 543.5h16M475 543.5h2M502 543.5h2M625 543.5h2M760 543.5h2M120 544.5h3M203 544.5h3M239 544.5h10M477 544.5h2M499 544.5h3M627 544.5h2M757 544.5h3M123 545.5h2M201 545.5h2M479 545.5h3M496 545.5h3M629 545.5h2M754 545.5h3M125 546.5h2M199 546.5h2M482 546.5h14M631 546.5h2M751 546.5h3M127 547.5h3M197 547.5h2M633 547.5h2M748 547.5h3M130 548.5h2M195 548.5h2M635 548.5h2M743 548.5h5M132 549.5h3M193 549.5h2M637 549.5h2M740 549.5h3M135 550.5h4M191 550.5h2M639 550.5h2M736 550.5h4M139 551.5h3M189 551.5h2M641 551.5h2M734 551.5h2M142 552.5h1M188 552.5h1M643 552.5h2M731 552.5h3M143 553.5h2M186 553.5h2M645 553.5h2M728 553.5h3M145 554.5h2M185 554.5h1M647 554.5h2M725 554.5h3M147 555.5h2M183 555.5h2M649 555.5h2M721 555.5h4M149 556.5h2M181 556.5h2M651 556.5h2M718 556.5h3M151 557.5h3M179 557.5h2M653 557.5h2M716 557.5h2M154 558.5h3M178 558.5h1M655 558.5h2M713 558.5h3M157 559.5h21M657 559.5h2M711 559.5h2M659 560.5h4M707 560.5h4M663 561.5h4M704 561.5h3M667 562.5h4M701 562.5h3M671 563.5h3M697 563.5h4M674 564.5h6M691 564.5h6M680 565.5h11" fill="none" stroke="#ff0000" stroke-width="1"/></g>
</g>
<g clip-path="url(#cr)">
<g shape-rendering="crispEdges">
<line x1="4" y1="600.5" x2="1165" y2="600.5" stroke="#c0c0c0" stroke-width="1" stroke-dasharray="3 3"/>
<line x1="4" y1="634.5" x2="1165" y2="634.5" stroke="#c0c0c0" stroke-width="1" stroke-dasharray="3 3"/>
</g>
<g shape-rendering="crispEdges"><path d="M11.5 613v2M12.5 615v4M13.5 619v3M14.5 622v2M128.5 637v2M145.5 635v2M146.5 633v2M168.5 631v2M169.5 629v2M176.5 622v3M177.5 620v2M178.5 618v2M181.5 614v2M184.5 613v2M186.5 616v2M239.5 624v2M240.5 622v2M241.5 620v2M242.5 618v2M243.5 616v2M256.5 624v2M257.5 622v2M258.5 620v2M273.5 622v2M274.5 624v2M280.5 624v2M281.5 622v2M282.5 620v2M297.5 617v2M330.5 615v2M365.5 624v2M377.5 621v2M378.5 623v2M400.5 628v4M401.5 624v4M402.5 620v4M425.5 619v2M446.5 622v2M448.5 625v2M450.5 628v2M472.5 628v2M473.5 626v2M474.5 624v2M492.5 617v2M494.5 614v2M513.5 614v2M537.5 616v3M538.5 614v2M584.5 617v2M585.5 619v2M586.5 621v2M602.5 627v2M629.5 633v2M630.5 631v2M660.5 637v2M705.5 627v2M732.5 626v3M733.5 623v3M734.5 621v2M750.5 621v2M760.5 617v2M761.5 615v2M762.5 613v2M773.5 613v2M774.5 611v2M778.5 612v2M780.5 610v3M781.5 606v4M782.5 603v3M785.5 599v2M794.5 602v2M801.5 608v2M833.5 607v2M834.5 609v2M844.5 610v2M845.5 608v2M846.5 606v2M847.5 604v2M889.5 597v2M890.5 595v2M895.5 597v2M896.5 599v4M897.5 603v4M898.5 607v4M891 594.5h1M892 595.5h2M894 596.5h1M787 597.5h3M786 598.5h1M790 598.5h1M791 599.5h1M888 599.5h1M792 600.5h1M886 600.5h2M784 601.5h1M793 601.5h1M853 601.5h3M879 601.5h7M783 602.5h1M850 602.5h3M856 602.5h1M878 602.5h1M848 603.5h2M857 603.5h1M876 603.5h2M795 604.5h3M858 604.5h1M874 604.5h2M798 605.5h1M826 605.5h6M859 605.5h1M871 605.5h3M799 606.5h1M825 606.5h1M832 606.5h1M860 606.5h1M870 606.5h1M800 607.5h1M823 607.5h2M861 607.5h1M869 607.5h1M3 608.5h1M821 608.5h2M862 608.5h1M868 608.5h1M4 609.5h2M775 609.5h1M807 609.5h1M820 609.5h1M863 609.5h5M6 610.5h2M776 610.5h1M802 610.5h1M805 610.5h2M808 610.5h1M817 610.5h3M905 610.5h6M921 610.5h2M8 611.5h1M314 611.5h6M777 611.5h1M804 611.5h1M809 611.5h2M814 611.5h3M835 611.5h1M899 611.5h1M902 611.5h3M911 611.5h2M919 611.5h2M9 612.5h2M183 612.5h1M312 612.5h2M320 612.5h1M327 612.5h1M511 612.5h1M763 612.5h5M803 612.5h1M811 612.5h3M836 612.5h1M843 612.5h1M900 612.5h2M913 612.5h1M918 612.5h1M182 613.5h1M301 613.5h4M310 613.5h2M321 613.5h1M326 613.5h1M328 613.5h1M495 613.5h1M510 613.5h1M512 613.5h1M539 613.5h1M768 613.5h1M779 613.5h1M837 613.5h2M842 613.5h1M899 613.5h1M914 613.5h1M916 613.5h2M300 614.5h1M305 614.5h2M309 614.5h1M322 614.5h1M324 614.5h2M329 614.5h1M496 614.5h1M508 614.5h2M540 614.5h1M769 614.5h1M839 614.5h3M915 614.5h1M185 615.5h1M299 615.5h1M307 615.5h2M323 615.5h1M407 615.5h1M497 615.5h1M503 615.5h5M541 615.5h1M583 615.5h1M770 615.5h1M772 615.5h1M52 616.5h1M180 616.5h1M244 616.5h1M298 616.5h1M406 616.5h1M408 616.5h1M428 616.5h2M493 616.5h1M498 616.5h1M500 616.5h3M514 616.5h1M542 616.5h1M582 616.5h1M771 616.5h1M49 617.5h3M53 617.5h2M179 617.5h1M198 617.5h1M245 617.5h1M289 617.5h3M331 617.5h6M405 617.5h1M409 617.5h1M427 617.5h1M430 617.5h7M499 617.5h1M515 617.5h1M543 617.5h1M581 617.5h1M48 618.5h1M55 618.5h1M187 618.5h3M196 618.5h2M199 618.5h1M246 618.5h1M260 618.5h1M266 618.5h3M285 618.5h4M292 618.5h1M337 618.5h2M371 618.5h4M404 618.5h1M410 618.5h1M426 618.5h1M437 618.5h2M516 618.5h5M526 618.5h1M544 618.5h1M555 618.5h4M580 618.5h1M47 619.5h1M56 619.5h1M79 619.5h5M190 619.5h6M200 619.5h1M247 619.5h1M259 619.5h1M261 619.5h1M264 619.5h2M269 619.5h2M283 619.5h2M293 619.5h1M296 619.5h1M339 619.5h1M370 619.5h1M375 619.5h1M403 619.5h1M411 619.5h2M439 619.5h5M487 619.5h5M521 619.5h2M525 619.5h1M527 619.5h1M536 619.5h1M545 619.5h2M553 619.5h2M559 619.5h1M567 619.5h1M579 619.5h1M735 619.5h1M759 619.5h1M46 620.5h1M57 620.5h1M63 620.5h1M70 620.5h2M78 620.5h1M84 620.5h1M201 620.5h1M248 620.5h1M262 620.5h2M271 620.5h1M294 620.5h2M340 620.5h2M369 620.5h1M376 620.5h1M413 620.5h2M444 620.5h1M485 620.5h2M523 620.5h2M528 620.5h1M535 620.5h1M547 620.5h3M552 620.5h1M560 620.5h2M566 620.5h1M568 620.5h1M578 620.5h1M736 620.5h1M751 620.5h8M45 621.5h1M58 621.5h1M60 621.5h3M64 621.5h3M68 621.5h2M72 621.5h2M76 621.5h2M85 621.5h1M202 621.5h1M249 621.5h1M272 621.5h1M342 621.5h2M368 621.5h1M415 621.5h8M424 621.5h1M445 621.5h1M483 621.5h2M529 621.5h1M534 621.5h1M550 621.5h2M562 621.5h1M564 621.5h2M569 621.5h1M577 621.5h1M737 621.5h2M44 622.5h1M59 622.5h1M67 622.5h1M74 622.5h2M86 622.5h1M203 622.5h1M250 622.5h1M344 622.5h1M354 622.5h6M367 622.5h1M423 622.5h1M482 622.5h1M530 622.5h1M532 622.5h2M563 622.5h1M570 622.5h1M574 622.5h3M589 622.5h8M739 622.5h2M18 623.5h1M43 623.5h1M87 623.5h1M204 623.5h1M251 623.5h1M345 623.5h2M352 623.5h2M360 623.5h1M366 623.5h1M475 623.5h1M480 623.5h2M531 623.5h1M571 623.5h3M587 623.5h2M597 623.5h2M741 623.5h2M749 623.5h1M15 624.5h3M19 624.5h1M42 624.5h1M88 624.5h1M205 624.5h2M252 624.5h1M347 624.5h5M361 624.5h1M447 624.5h1M476 624.5h4M599 624.5h1M743 624.5h3M748 624.5h1M14 625.5h1M20 625.5h1M41 625.5h1M89 625.5h8M173 625.5h3M207 625.5h2M253 625.5h1M362 625.5h1M379 625.5h1M600 625.5h1M707 625.5h1M746 625.5h2M21 626.5h1M40 626.5h1M97 626.5h2M172 626.5h1M209 626.5h2M218 626.5h6M231 626.5h1M238 626.5h1M254 626.5h1M275 626.5h3M279 626.5h1M364 626.5h1M381 626.5h9M601 626.5h1M706 626.5h1M708 626.5h2M22 627.5h1M39 627.5h1M99 627.5h7M171 627.5h1M211 627.5h2M216 627.5h2M224 627.5h2M230 627.5h1M232 627.5h2M236 627.5h2M255 627.5h1M278 627.5h1M363 627.5h1M380 627.5h1M390 627.5h2M449 627.5h1M710 627.5h1M713 627.5h9M23 628.5h9M38 628.5h1M106 628.5h7M170 628.5h1M213 628.5h3M226 628.5h1M228 628.5h2M234 628.5h2M392 628.5h2M467 628.5h1M711 628.5h2M722 628.5h1M32 629.5h1M37 629.5h1M113 629.5h2M227 629.5h1M394 629.5h2M458 629.5h2M465 629.5h2M468 629.5h1M603 629.5h5M704 629.5h1M723 629.5h2M731 629.5h1M33 630.5h2M36 630.5h1M115 630.5h1M163 630.5h1M396 630.5h1M451 630.5h2M456 630.5h2M460 630.5h2M464 630.5h1M469 630.5h2M608 630.5h2M631 630.5h1M699 630.5h3M703 630.5h1M725 630.5h1M730 630.5h1M35 631.5h1M116 631.5h1M148 631.5h8M162 631.5h1M164 631.5h1M397 631.5h1M453 631.5h3M462 631.5h2M471 631.5h1M610 631.5h1M632 631.5h1M697 631.5h2M702 631.5h1M726 631.5h1M728 631.5h2M117 632.5h1M147 632.5h1M156 632.5h1M161 632.5h1M165 632.5h2M398 632.5h1M611 632.5h1M633 632.5h1M696 632.5h1M727 632.5h1M118 633.5h1M157 633.5h1M160 633.5h1M167 633.5h1M399 633.5h1M612 633.5h1M634 633.5h1M664 633.5h1M691 633.5h5M119 634.5h1M131 634.5h2M137 634.5h3M158 634.5h2M613 634.5h1M635 634.5h1M663 634.5h1M665 634.5h2M683 634.5h1M689 634.5h2M120 635.5h2M130 635.5h1M133 635.5h4M140 635.5h1M614 635.5h1M628 635.5h1M636 635.5h1M662 635.5h1M667 635.5h6M682 635.5h1M684 635.5h2M688 635.5h1M122 636.5h1M129 636.5h1M141 636.5h1M615 636.5h11M627 636.5h1M637 636.5h1M661 636.5h1M673 636.5h2M681 636.5h1M686 636.5h2M123 637.5h1M142 637.5h1M144 637.5h1M626 637.5h1M638 637.5h1M675 637.5h4M680 637.5h1M124 638.5h2M143 638.5h1M639 638.5h2M679 638.5h1M126 639.5h2M641 639.5h2M658 639.5h2M643 640.5h6M656 640.5h2M649 641.5h2M653 641.5h3M651 642.5h2" fill="none" stroke="#1e90ff" stroke-width="1"/></g>
</g>
<g>
<text x="1171.5" y="56.8" font-size="9.3" fill="#000" textLength="32.2" lengthAdjust="spacingAndGlyphs">1.33540</text>
<text x="1171.5" y="89.8" font-size="9.3" fill="#000" textLength="32.2" lengthAdjust="spacingAndGlyphs">1.32460</text>
<text x="1171.5" y="122.8" font-size="9.3" fill="#000" textLength="32.2" lengthAdjust="spacingAndGlyphs">1.31410</text>
<text x="1171.5" y="155.8" font-size="9.3" fill="#000" textLength="32.2" lengthAdjust="spacingAndGlyphs">1.30360</text>
<text x="1171.5" y="188.8" font-size="9.3" fill="#000" textLength="32.2" lengthAdjust="spacingAndGlyphs">1.29310</text>
<text x="1171.5" y="221.8" font-size="9.3" fill="#000" textLength="32.2" lengthAdjust="spacingAndGlyphs">1.28260</text>
<text x="1171.5" y="254.8" font-size="9.3" fill="#000" textLength="32.2" lengthAdjust="spacingAndGlyphs">1.27180</text>
<text x="1171.5" y="287.8" font-size="9.3" fill="#000" textLength="32.2" lengthAdjust="spacingAndGlyphs">1.26130</text>
<text x="1171.5" y="320.8" font-size="9.3" fill="#000" textLength="32.2" lengthAdjust="spacingAndGlyphs">1.25080</text>
<text x="1171.5" y="353.8" font-size="9.3" fill="#000" textLength="32.2" lengthAdjust="spacingAndGlyphs">1.24030</text>
<text x="1171.5" y="386.8" font-size="9.3" fill="#000" textLength="32.2" lengthAdjust="spacingAndGlyphs">1.22950</text>
<text x="1171.5" y="419.8" font-size="9.3" fill="#000" textLength="32.2" lengthAdjust="spacingAndGlyphs">1.21900</text>
<text x="1171.5" y="452.8" font-size="9.3" fill="#000" textLength="32.2" lengthAdjust="spacingAndGlyphs">1.20850</text>
<text x="1171.5" y="485.8" font-size="9.3" fill="#000" textLength="32.2" lengthAdjust="spacingAndGlyphs">1.19800</text>
<text x="1168.9" y="498" font-size="9.3" fill="#000" textLength="32.9" lengthAdjust="spacingAndGlyphs">0.01135</text>
<text x="1168.9" y="532.8" font-size="9.3" fill="#000" textLength="17.8" lengthAdjust="spacingAndGlyphs">0.00</text>
<text x="1169.1" y="567.7" font-size="9.3" fill="#000" textLength="41.6" lengthAdjust="spacingAndGlyphs">-0.011904</text>
<text x="1169.3" y="584.1" font-size="9.3" fill="#000" textLength="14.7" lengthAdjust="spacingAndGlyphs">100</text>
<text x="1168.8" y="603.7" font-size="9.3" fill="#000" textLength="8.9" lengthAdjust="spacingAndGlyphs">70</text>
<text x="1168.8" y="637.8" font-size="9.3" fill="#000" textLength="8.9" lengthAdjust="spacingAndGlyphs">30</text>
<text x="1169.3" y="656.4" font-size="9.3" fill="#000" textLength="4.6" lengthAdjust="spacingAndGlyphs">0</text>
</g>
<g shape-rendering="crispEdges">
<rect x="1167" y="171" width="39" height="11" fill="#ff0000"/>
<rect x="1167" y="223" width="39" height="11" fill="#ff0000"/>
<rect x="1167" y="269" width="39" height="11" fill="#00ff00"/>
<rect x="1167" y="286" width="39" height="11" fill="#000000"/>
<rect x="1167" y="318" width="39" height="11" fill="#0000ff"/>
<rect x="1167" y="373" width="39" height="11" fill="#0000ff"/>
</g><g>
<text x="1171.5" y="180" font-size="9.3" fill="#fff" textLength="32.2" lengthAdjust="spacingAndGlyphs">1.29559</text>
<text x="1171.5" y="232" font-size="9.3" fill="#fff" textLength="32.2" lengthAdjust="spacingAndGlyphs">1.27906</text>
<text x="1171.5" y="278" font-size="9.3" fill="#fff" textLength="32.2" lengthAdjust="spacingAndGlyphs">1.26416</text>
<text x="1171.5" y="295" font-size="9.3" fill="#fff" textLength="32.2" lengthAdjust="spacingAndGlyphs">1.25908</text>
<text x="1171.5" y="327" font-size="9.3" fill="#fff" textLength="32.2" lengthAdjust="spacingAndGlyphs">1.24861</text>
<text x="1171.5" y="382" font-size="9.3" fill="#fff" textLength="32.2" lengthAdjust="spacingAndGlyphs">1.23079</text>
</g>
<g>
<text x="2.2" y="673" font-size="9.3" fill="#000" textLength="50.7" lengthAdjust="spacingAndGlyphs">30 Oct 2020</text>
<text x="66.2" y="673" font-size="9.3" fill="#000" textLength="52.7" lengthAdjust="spacingAndGlyphs">18 Nov 2020</text>
<text x="130.2" y="673" font-size="9.3" fill="#000" textLength="47.6" lengthAdjust="spacingAndGlyphs">7 Dec 2020</text>
<text x="194.2" y="673" font-size="9.3" fill="#000" textLength="52.7" lengthAdjust="spacingAndGlyphs">25 Dec 2020</text>
<text x="258.2" y="673" font-size="9.3" fill="#000" textLength="51.2" lengthAdjust="spacingAndGlyphs">15 <tspan font-family="Liberation Sans">Jan</tspan> 2021</text>
<text x="322.2" y="673" font-size="9.3" fill="#000" textLength="47.1" lengthAdjust="spacingAndGlyphs">3 Feb 2021</text>
<text x="386.2" y="673" font-size="9.3" fill="#000" textLength="52.2" lengthAdjust="spacingAndGlyphs">22 Feb 2021</text>
<text x="450.2" y="673" font-size="9.3" fill="#000" textLength="52.2" lengthAdjust="spacingAndGlyphs">12 Mar 2021</text>
<text x="514.2" y="673" font-size="9.3" fill="#000" textLength="52.2" lengthAdjust="spacingAndGlyphs">31 Mar 2021</text>
<text x="578.2" y="673" font-size="9.3" fill="#000" textLength="50.2" lengthAdjust="spacingAndGlyphs">19 Apr 2021</text>
<text x="642.2" y="673" font-size="9.3" fill="#000" textLength="48.6" lengthAdjust="spacingAndGlyphs">7 May 2021</text>
<text x="706.2" y="673" font-size="9.3" fill="#000" textLength="53.8" lengthAdjust="spacingAndGlyphs">26 May 2021</text>
<text x="770.2" y="673" font-size="9.3" fill="#000" textLength="51.2" lengthAdjust="spacingAndGlyphs">14 <tspan font-family="Liberation Sans">Jun</tspan> 2021</text>
<text x="834.2" y="673" font-size="9.3" fill="#000" textLength="42.9" lengthAdjust="spacingAndGlyphs">2 <tspan font-family="Liberation Sans">Jul</tspan> 2021</text>
<text x="898.2" y="673" font-size="9.3" fill="#000" textLength="48.1" lengthAdjust="spacingAndGlyphs">21 <tspan font-family="Liberation Sans">Jul</tspan> 2021</text>
</g>
<g>
<path d="M6 36 L9.5 32 L13 36 Z" fill="#000"/>
<text x="18.3" y="37" font-size="9.3" fill="#000" textLength="65" lengthAdjust="spacingAndGlyphs">USDCAD,Daily</text>
<text x="90.5" y="37" font-size="9.3" fill="#000" textLength="32.2" lengthAdjust="spacingAndGlyphs">1.25801</text>
<text x="126.55" y="37" font-size="9.3" fill="#000" textLength="32.2" lengthAdjust="spacingAndGlyphs">1.26037</text>
<text x="162.6" y="37" font-size="9.3" fill="#000" textLength="32.2" lengthAdjust="spacingAndGlyphs">1.25722</text>
<text x="198.64999999999998" y="37" font-size="9.3" fill="#000" textLength="32.2" lengthAdjust="spacingAndGlyphs">1.25908</text>
<text x="7.5" y="499.8" font-size="9.3" fill="#000" textLength="65.3" lengthAdjust="spacingAndGlyphs">MACD(12,26,9)</text>
<text x="76.8" y="499.8" font-size="9.3" fill="#000" textLength="36.6" lengthAdjust="spacingAndGlyphs">0.006066</text>
<text x="117.4" y="499.8" font-size="9.3" fill="#000" textLength="37" lengthAdjust="spacingAndGlyphs">0.008077</text>
<text x="7.5" y="586.2" font-size="9.3" fill="#000" textLength="31.6" lengthAdjust="spacingAndGlyphs">RSI(14)</text>
<text x="42.5" y="586.2" font-size="9.3" fill="#000" textLength="31.8" lengthAdjust="spacingAndGlyphs">57.7370</text>
</g>
<g shape-rendering="crispEdges">
<rect x="6" y="45" width="219" height="57" fill="url(#gr)"/>
<rect x="58" y="45" width="115" height="24" fill="#fff"/>
<rect x="115" y="69" width="2" height="33" fill="#fff"/>
<rect x="60" y="45" width="111" height="22" fill="#a8acb4"/>
<rect x="61" y="46" width="109" height="20" fill="#fff"/>
<rect x="61" y="46" width="20" height="20" fill="url(#gb)"/>
<rect x="81" y="46" width="1" height="20" fill="#b8bcc4"/>
<rect x="150" y="46" width="20" height="20" fill="url(#gb)"/>
<rect x="149" y="46" width="1" height="20" fill="#b8bcc4"/>
<rect x="10" y="68" width="44" height="1" fill="#800000"/>
<rect x="10" y="69" width="44" height="1" fill="#ff7878"/>
<rect x="177" y="68" width="44" height="1" fill="#800000"/>
<rect x="177" y="69" width="44" height="1" fill="#ff7878"/>
<rect x="6" y="45" width="1" height="57" fill="rgba(150,0,0,0.5)"/>
<rect x="57" y="45" width="1" height="24" fill="rgba(150,0,0,0.5)"/>
<rect x="173" y="45" width="1" height="24" fill="rgba(150,0,0,0.5)"/>
<rect x="224" y="45" width="1" height="57" fill="rgba(150,0,0,0.5)"/>
<rect x="7" y="45" width="50" height="1" fill="rgba(150,0,0,0.5)"/>
<rect x="174" y="45" width="50" height="1" fill="rgba(150,0,0,0.5)"/>
<rect x="58" y="69" width="57" height="1" fill="rgba(150,0,0,0.5)"/>
<rect x="117" y="69" width="56" height="1" fill="rgba(150,0,0,0.5)"/>
<rect x="6" y="101" width="109" height="1" fill="rgba(150,0,0,0.5)"/>
<rect x="117" y="101" width="108" height="1" fill="rgba(150,0,0,0.5)"/>
<rect x="114" y="70" width="1" height="31" fill="rgba(150,0,0,0.5)"/>
<rect x="117" y="70" width="1" height="31" fill="rgba(150,0,0,0.5)"/>
</g>
<g shape-rendering="crispEdges" fill="#4a5cc4">
<rect x="68" y="54" width="5" height="1"/><rect x="69" y="55" width="3" height="1"/><rect x="70" y="56" width="1" height="1" opacity="0.8"/>
<rect x="159" y="54" width="1" height="1" opacity="0.8"/><rect x="158" y="55" width="3" height="1"/><rect x="157" y="56" width="5" height="1"/>
</g>
<g>
<text x="18.4" y="61" font-size="12" fill="#fff" textLength="25.4" lengthAdjust="spacingAndGlyphs">SELL</text>
<text x="186.6" y="61" font-size="12" fill="#fff" textLength="22.9" lengthAdjust="spacingAndGlyphs">BUY</text>
<text x="122.1" y="59.8" font-size="11.5" fill="#000" textLength="23.8" lengthAdjust="spacingAndGlyphs">3.00</text>
<text x="26.4" y="97" font-size="12" fill="#fff" textLength="22.9" lengthAdjust="spacingAndGlyphs" font-weight="bold">1.25</text>
<text x="136.4" y="97" font-size="12" fill="#fff" textLength="22.9" lengthAdjust="spacingAndGlyphs" font-weight="bold">1.25</text>
<text x="53.1" y="97" font-size="32" fill="#fff" textLength="37.1" lengthAdjust="spacingAndGlyphs">91</text>
<text x="163.5" y="97" font-size="32" fill="#fff" textLength="36.9" lengthAdjust="spacingAndGlyphs">92</text>
<text x="93.3" y="81" font-size="12" fill="#fff" textLength="6.7" lengthAdjust="spacingAndGlyphs" font-weight="bold">1</text>
<text x="203.8" y="81" font-size="12" fill="#fff" textLength="6.7" lengthAdjust="spacingAndGlyphs" font-weight="bold">6</text>
</g>
<g shape-rendering="crispEdges">
<rect x="0" y="681" width="1206" height="1" fill="#e3e3e3"/>
<rect x="0" y="683" width="1206" height="1" fill="#000"/>
<rect x="0" y="685" width="1206" height="18" fill="#f0f0f0"/>
<rect x="0" y="704" width="1206" height="2" fill="#f0f0f0"/>
<rect x="0" y="706" width="1206" height="1" fill="#f4f4f4"/>
<rect x="0" y="707" width="1206" height="1" fill="#a0a0a0"/>
<rect x="288" y="683" width="104" height="19" fill="#000"/>
<rect x="289" y="683" width="102" height="18" fill="#fff"/>
<rect x="392" y="685" width="1" height="18" fill="#d0d0d0"/>
<rect x="287" y="685" width="1" height="17" fill="#fff"/>
<rect x="290" y="702" width="103" height="1" fill="#dcdcdc"/>
<rect x="96" y="687" width="1" height="13" fill="#707070"/>
<rect x="200" y="687" width="1" height="13" fill="#707070"/>
<rect x="496" y="687" width="1" height="13" fill="#707070"/>
<rect x="572" y="687" width="1" height="13" fill="#707070"/>
<rect x="641" y="687" width="1" height="13" fill="#707070"/>
<rect x="716" y="687" width="1" height="13" fill="#707070"/>
<rect x="808" y="687" width="1" height="13" fill="#707070"/>
<rect x="900" y="687" width="1" height="13" fill="#707070"/>
</g>
<g>
<text x="16.2" y="697.8" font-size="12" fill="#747474" textLength="67.9" lengthAdjust="spacingAndGlyphs">EURUSD,H4</text>
<text x="107" y="697.8" font-size="12" fill="#747474" textLength="82" lengthAdjust="spacingAndGlyphs">AUDUSD,Daily</text>
<text x="210.2" y="697.8" font-size="12" fill="#747474" textLength="66.4" lengthAdjust="spacingAndGlyphs">USDCHF,H4</text>
<text x="402.7" y="697.8" font-size="12" fill="#747474" textLength="82.0" lengthAdjust="spacingAndGlyphs">USDCNH,Daily</text>
<text x="508.2" y="697.8" font-size="12" fill="#747474" textLength="51.5" lengthAdjust="spacingAndGlyphs">UKOil,H1</text>
<text x="582.2" y="697.8" font-size="12" fill="#747474" textLength="46.4" lengthAdjust="spacingAndGlyphs"><tspan font-family="Liberation Sans">DJ30,H1</tspan></text>
<text x="652" y="697.8" font-size="12" fill="#747474" textLength="51.2" lengthAdjust="spacingAndGlyphs">USDX,H1</text>
<text x="726.7" y="697.8" font-size="12" fill="#747474" textLength="68.3" lengthAdjust="spacingAndGlyphs">XAUUSD,H1</text>
<text x="820.2" y="697.8" font-size="12" fill="#747474" textLength="67.3" lengthAdjust="spacingAndGlyphs">GBPUSD,H1</text>
<text x="299" y="697.8" font-size="12" fill="#000" textLength="81" lengthAdjust="spacingAndGlyphs">USDCAD,Daily</text>
<path d="M1180 692.5 L1184.5 689 L1184.5 696 Z" fill="#808080"/>
<path d="M1203.5 692.5 L1199 689 L1199 696 Z" fill="#808080"/>
</g>
</svg></div></body></html>
